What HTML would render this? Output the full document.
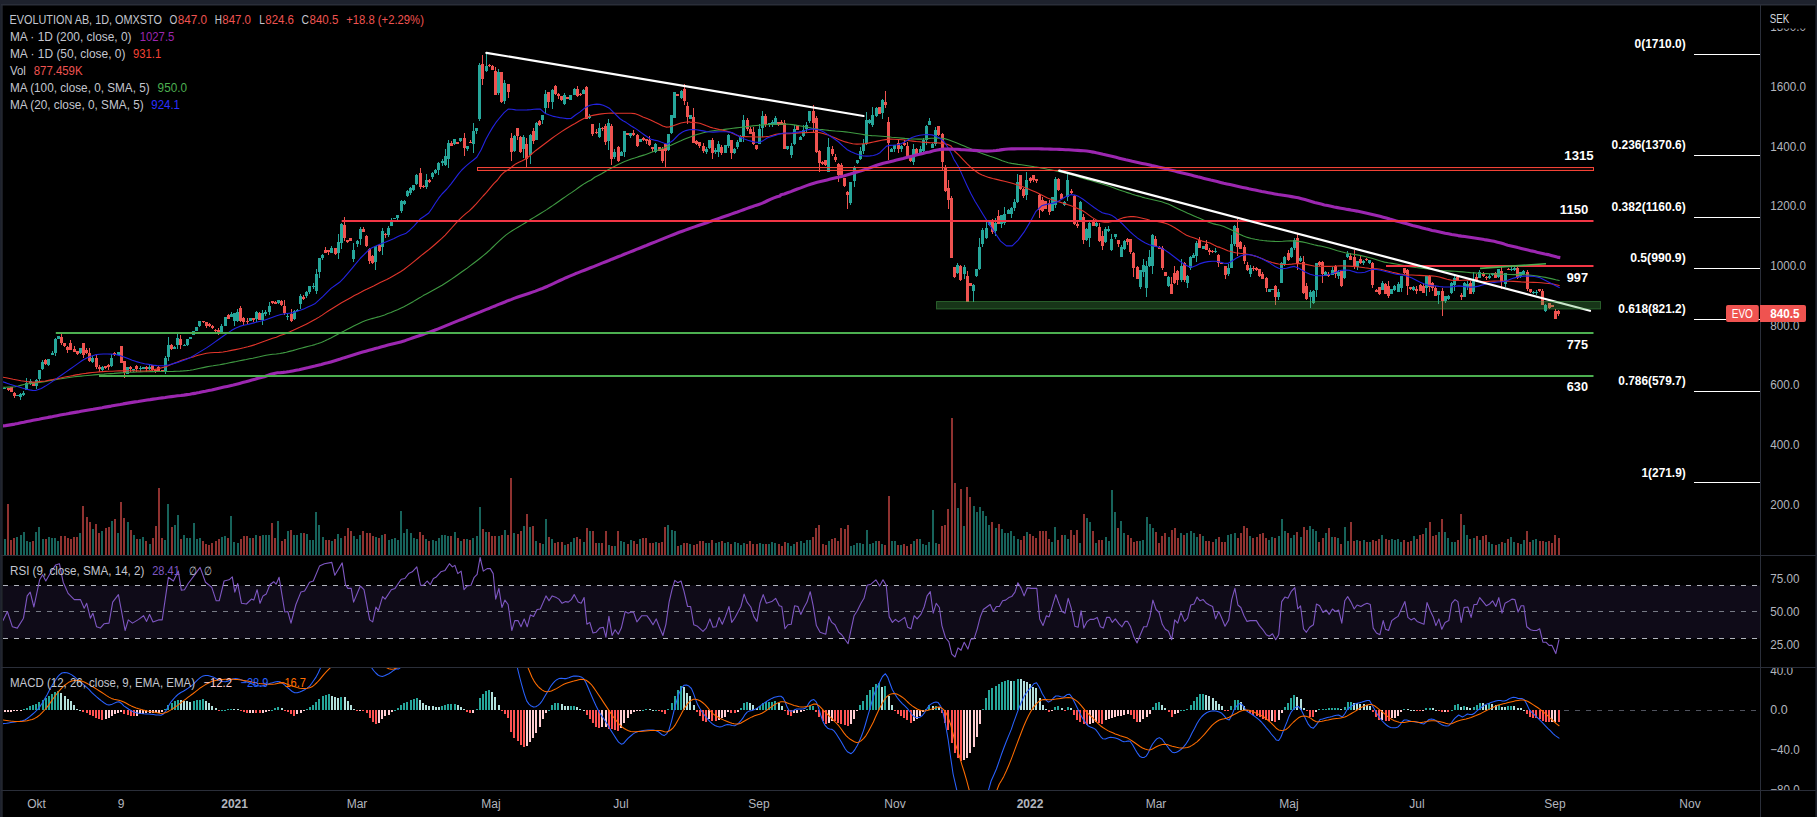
<!DOCTYPE html>
<html><head><meta charset="utf-8"><title>EVOLUTION AB chart</title>
<style>html,body{margin:0;padding:0;background:#000;width:1817px;height:817px;overflow:hidden;font-family:"Liberation Sans",sans-serif}</style>
</head><body>
<svg width="1817" height="817" viewBox="0 0 1817 817" style="position:absolute;left:0;top:0;display:block" font-family="'Liberation Sans', sans-serif">
<defs>
<clipPath id="cm"><rect x="3" y="6" width="1757" height="549"/></clipPath>
<clipPath id="cr"><rect x="3" y="556" width="1757" height="111"/></clipPath>
<clipPath id="cd"><rect x="3" y="668" width="1757" height="122"/></clipPath>
<clipPath id="ca1"><rect x="1761" y="6" width="55" height="549"/></clipPath>
<clipPath id="ca3"><rect x="1761" y="668" width="55" height="122"/></clipPath>
</defs>
<rect x="0" y="0" width="1817" height="817" fill="#000"/>
<g clip-path="url(#cm)">
<path d="M4 539h2v16h-2zM16 537h2v18h-2zM20 535h2v20h-2zM23 532h2v23h-2zM26 541h2v14h-2zM29 542h2v13h-2zM35 532h2v23h-2zM38 527h2v28h-2zM42 539h2v16h-2zM48 537h2v18h-2zM51 538h2v17h-2zM54 538h2v17h-2zM57 541h2v14h-2zM79 533h2v22h-2zM92 529h2v26h-2zM101 531h2v24h-2zM111 521h2v34h-2zM117 533h2v22h-2zM127 522h2v33h-2zM133 535h2v20h-2zM139 539h2v16h-2zM142 537h2v18h-2zM149 544h2v11h-2zM164 540h2v15h-2zM167 504h2v51h-2zM174 525h2v30h-2zM177 515h2v40h-2zM183 535h2v20h-2zM186 538h2v17h-2zM189 538h2v17h-2zM193 523h2v32h-2zM196 539h2v16h-2zM199 538h2v17h-2zM221 537h2v18h-2zM224 536h2v19h-2zM230 516h2v39h-2zM233 542h2v13h-2zM237 543h2v12h-2zM249 538h2v17h-2zM255 535h2v20h-2zM262 535h2v20h-2zM265 535h2v20h-2zM268 535h2v20h-2zM277 521h2v34h-2zM287 531h2v24h-2zM293 535h2v20h-2zM296 535h2v20h-2zM300 533h2v22h-2zM306 534h2v21h-2zM309 540h2v15h-2zM312 540h2v15h-2zM315 512h2v43h-2zM318 525h2v30h-2zM322 537h2v18h-2zM331 541h2v14h-2zM337 534h2v21h-2zM340 538h2v17h-2zM353 536h2v19h-2zM356 539h2v16h-2zM359 535h2v20h-2zM375 537h2v18h-2zM381 535h2v20h-2zM388 540h2v15h-2zM391 539h2v16h-2zM394 538h2v17h-2zM397 540h2v15h-2zM400 511h2v44h-2zM403 533h2v22h-2zM406 529h2v26h-2zM410 533h2v22h-2zM413 538h2v17h-2zM416 539h2v16h-2zM425 539h2v16h-2zM432 540h2v15h-2zM435 541h2v14h-2zM438 538h2v17h-2zM441 535h2v20h-2zM444 535h2v20h-2zM447 536h2v19h-2zM454 532h2v23h-2zM460 541h2v14h-2zM466 539h2v16h-2zM472 538h2v17h-2zM476 536h2v19h-2zM479 507h2v48h-2zM485 532h2v23h-2zM498 536h2v19h-2zM504 530h2v25h-2zM513 533h2v22h-2zM523 526h2v29h-2zM529 527h2v28h-2zM535 541h2v14h-2zM542 544h2v11h-2zM545 519h2v36h-2zM551 539h2v16h-2zM564 545h2v10h-2zM570 542h2v13h-2zM573 538h2v17h-2zM583 542h2v13h-2zM589 531h2v24h-2zM598 543h2v12h-2zM608 545h2v10h-2zM614 546h2v9h-2zM620 541h2v14h-2zM623 542h2v13h-2zM630 540h2v15h-2zM639 539h2v16h-2zM655 542h2v13h-2zM667 525h2v30h-2zM671 530h2v25h-2zM674 531h2v24h-2zM680 545h2v10h-2zM689 544h2v11h-2zM705 543h2v12h-2zM708 543h2v12h-2zM715 543h2v12h-2zM718 542h2v13h-2zM724 543h2v12h-2zM727 542h2v13h-2zM734 542h2v13h-2zM737 543h2v12h-2zM740 545h2v10h-2zM743 543h2v12h-2zM759 543h2v12h-2zM762 544h2v11h-2zM768 544h2v11h-2zM771 542h2v13h-2zM774 543h2v12h-2zM787 543h2v12h-2zM790 546h2v9h-2zM793 544h2v11h-2zM800 541h2v14h-2zM803 543h2v12h-2zM806 540h2v15h-2zM809 540h2v15h-2zM828 541h2v14h-2zM850 546h2v9h-2zM853 545h2v10h-2zM856 543h2v12h-2zM859 543h2v12h-2zM862 544h2v11h-2zM866 530h2v25h-2zM869 544h2v11h-2zM872 543h2v12h-2zM875 541h2v14h-2zM881 544h2v11h-2zM891 541h2v14h-2zM894 541h2v14h-2zM900 545h2v10h-2zM913 541h2v14h-2zM919 539h2v16h-2zM922 544h2v11h-2zM925 545h2v10h-2zM928 542h2v13h-2zM932 510h2v45h-2zM935 543h2v12h-2zM957 508h2v47h-2zM963 526h2v29h-2zM973 506h2v49h-2zM976 512h2v43h-2zM979 507h2v48h-2zM982 511h2v44h-2zM985 516h2v39h-2zM988 525h2v30h-2zM995 528h2v27h-2zM1001 529h2v26h-2zM1004 533h2v22h-2zM1007 533h2v22h-2zM1010 531h2v24h-2zM1013 536h2v19h-2zM1017 539h2v16h-2zM1026 532h2v23h-2zM1051 542h2v13h-2zM1054 527h2v28h-2zM1064 535h2v20h-2zM1067 539h2v16h-2zM1079 543h2v12h-2zM1086 518h2v37h-2zM1089 522h2v33h-2zM1095 543h2v12h-2zM1105 537h2v18h-2zM1108 541h2v14h-2zM1111 490h2v65h-2zM1114 512h2v43h-2zM1120 521h2v34h-2zM1123 533h2v22h-2zM1139 541h2v14h-2zM1142 540h2v15h-2zM1146 517h2v38h-2zM1149 524h2v31h-2zM1152 528h2v27h-2zM1168 537h2v18h-2zM1180 533h2v22h-2zM1186 533h2v22h-2zM1190 531h2v24h-2zM1193 533h2v22h-2zM1196 537h2v18h-2zM1202 536h2v19h-2zM1215 539h2v16h-2zM1227 535h2v20h-2zM1230 534h2v21h-2zM1234 533h2v22h-2zM1249 536h2v19h-2zM1268 540h2v15h-2zM1271 537h2v18h-2zM1278 536h2v19h-2zM1281 519h2v36h-2zM1284 531h2v24h-2zM1290 538h2v17h-2zM1293 535h2v20h-2zM1300 537h2v18h-2zM1309 526h2v29h-2zM1312 529h2v26h-2zM1315 531h2v24h-2zM1325 533h2v22h-2zM1331 537h2v18h-2zM1337 538h2v17h-2zM1344 527h2v28h-2zM1347 541h2v14h-2zM1356 540h2v15h-2zM1363 540h2v15h-2zM1369 542h2v13h-2zM1381 535h2v20h-2zM1391 539h2v16h-2zM1394 540h2v15h-2zM1397 539h2v16h-2zM1400 542h2v13h-2zM1413 536h2v19h-2zM1425 528h2v27h-2zM1438 532h2v23h-2zM1444 532h2v23h-2zM1447 538h2v17h-2zM1451 542h2v13h-2zM1454 542h2v13h-2zM1463 525h2v30h-2zM1466 535h2v20h-2zM1473 538h2v17h-2zM1479 540h2v15h-2zM1488 542h2v13h-2zM1491 544h2v11h-2zM1498 544h2v11h-2zM1504 543h2v12h-2zM1510 537h2v18h-2zM1513 542h2v13h-2zM1520 544h2v11h-2zM1523 540h2v15h-2zM1532 540h2v15h-2zM1535 539h2v16h-2zM1545 542h2v13h-2z" fill="#17635b" shape-rendering="crispEdges"/>
<path d="M7 504h2v51h-2zM10 540h2v15h-2zM13 538h2v17h-2zM32 541h2v14h-2zM45 539h2v16h-2zM60 536h2v19h-2zM64 536h2v19h-2zM67 538h2v17h-2zM70 539h2v16h-2zM73 537h2v18h-2zM76 537h2v18h-2zM82 506h2v49h-2zM86 517h2v38h-2zM89 522h2v33h-2zM95 524h2v31h-2zM98 533h2v22h-2zM105 528h2v27h-2zM108 527h2v28h-2zM114 519h2v36h-2zM120 502h2v53h-2zM123 518h2v37h-2zM130 530h2v25h-2zM136 539h2v16h-2zM145 541h2v14h-2zM152 538h2v17h-2zM155 526h2v29h-2zM158 488h2v67h-2zM161 538h2v17h-2zM171 527h2v28h-2zM180 539h2v16h-2zM202 541h2v14h-2zM205 544h2v11h-2zM208 545h2v10h-2zM211 543h2v12h-2zM215 541h2v14h-2zM218 539h2v16h-2zM227 538h2v17h-2zM240 539h2v16h-2zM243 536h2v19h-2zM246 536h2v19h-2zM252 538h2v17h-2zM259 536h2v19h-2zM271 523h2v32h-2zM274 538h2v17h-2zM281 541h2v14h-2zM284 539h2v16h-2zM290 530h2v25h-2zM303 533h2v22h-2zM325 540h2v15h-2zM328 540h2v15h-2zM334 539h2v16h-2zM344 536h2v19h-2zM347 528h2v27h-2zM350 531h2v24h-2zM362 531h2v24h-2zM366 533h2v22h-2zM369 533h2v22h-2zM372 536h2v19h-2zM378 538h2v17h-2zM384 534h2v21h-2zM419 532h2v23h-2zM422 535h2v20h-2zM428 541h2v14h-2zM450 536h2v19h-2zM457 538h2v17h-2zM463 539h2v16h-2zM469 540h2v15h-2zM482 529h2v26h-2zM488 532h2v23h-2zM491 536h2v19h-2zM494 536h2v19h-2zM501 535h2v20h-2zM507 535h2v20h-2zM510 478h2v77h-2zM517 534h2v21h-2zM520 531h2v24h-2zM526 514h2v41h-2zM532 526h2v29h-2zM539 543h2v12h-2zM548 537h2v18h-2zM554 543h2v12h-2zM557 542h2v13h-2zM561 542h2v13h-2zM567 544h2v11h-2zM576 537h2v18h-2zM579 539h2v16h-2zM586 528h2v27h-2zM592 531h2v24h-2zM595 543h2v12h-2zM601 543h2v12h-2zM605 531h2v24h-2zM611 546h2v9h-2zM617 531h2v24h-2zM627 544h2v11h-2zM633 541h2v14h-2zM636 544h2v11h-2zM642 538h2v17h-2zM645 538h2v17h-2zM649 543h2v12h-2zM652 543h2v12h-2zM658 543h2v12h-2zM661 542h2v13h-2zM664 527h2v28h-2zM677 546h2v9h-2zM683 543h2v12h-2zM686 543h2v12h-2zM693 545h2v10h-2zM696 544h2v11h-2zM699 541h2v14h-2zM702 541h2v14h-2zM711 540h2v15h-2zM721 541h2v14h-2zM730 544h2v11h-2zM746 544h2v11h-2zM749 541h2v14h-2zM752 544h2v11h-2zM756 544h2v11h-2zM765 544h2v11h-2zM778 544h2v11h-2zM781 546h2v9h-2zM784 542h2v13h-2zM796 542h2v13h-2zM812 537h2v18h-2zM815 528h2v27h-2zM818 525h2v30h-2zM822 544h2v11h-2zM825 545h2v10h-2zM831 539h2v16h-2zM834 538h2v17h-2zM837 541h2v14h-2zM840 528h2v27h-2zM844 529h2v26h-2zM847 525h2v30h-2zM878 541h2v14h-2zM884 545h2v10h-2zM888 496h2v59h-2zM897 545h2v10h-2zM903 544h2v11h-2zM906 546h2v9h-2zM910 544h2v11h-2zM916 539h2v16h-2zM938 544h2v11h-2zM941 526h2v29h-2zM944 525h2v30h-2zM947 509h2v46h-2zM951 418h2v137h-2zM954 483h2v72h-2zM960 489h2v66h-2zM966 487h2v68h-2zM969 497h2v58h-2zM991 522h2v33h-2zM998 524h2v31h-2zM1020 540h2v15h-2zM1023 536h2v19h-2zM1029 534h2v21h-2zM1032 536h2v19h-2zM1035 538h2v17h-2zM1039 531h2v24h-2zM1042 531h2v24h-2zM1045 531h2v24h-2zM1048 539h2v16h-2zM1057 540h2v15h-2zM1061 535h2v20h-2zM1070 530h2v25h-2zM1073 535h2v20h-2zM1076 530h2v25h-2zM1083 514h2v41h-2zM1092 531h2v24h-2zM1098 540h2v15h-2zM1101 540h2v15h-2zM1117 528h2v27h-2zM1127 535h2v20h-2zM1130 538h2v17h-2zM1133 542h2v13h-2zM1136 541h2v14h-2zM1155 532h2v23h-2zM1158 543h2v12h-2zM1161 536h2v19h-2zM1164 533h2v22h-2zM1171 530h2v25h-2zM1174 528h2v27h-2zM1177 538h2v17h-2zM1183 535h2v20h-2zM1199 534h2v21h-2zM1205 541h2v14h-2zM1208 541h2v14h-2zM1212 542h2v13h-2zM1218 537h2v18h-2zM1221 542h2v13h-2zM1224 542h2v13h-2zM1237 538h2v17h-2zM1240 533h2v22h-2zM1243 526h2v29h-2zM1246 528h2v27h-2zM1252 538h2v17h-2zM1256 537h2v18h-2zM1259 534h2v21h-2zM1262 533h2v22h-2zM1265 538h2v17h-2zM1274 538h2v17h-2zM1287 533h2v22h-2zM1296 532h2v23h-2zM1303 527h2v28h-2zM1306 530h2v25h-2zM1318 542h2v13h-2zM1322 538h2v17h-2zM1328 528h2v27h-2zM1334 537h2v18h-2zM1340 544h2v11h-2zM1350 522h2v33h-2zM1353 541h2v14h-2zM1359 541h2v14h-2zM1366 542h2v13h-2zM1372 540h2v15h-2zM1375 541h2v14h-2zM1378 539h2v16h-2zM1385 539h2v16h-2zM1388 540h2v15h-2zM1403 540h2v15h-2zM1407 542h2v13h-2zM1410 541h2v14h-2zM1416 539h2v16h-2zM1419 535h2v20h-2zM1422 534h2v21h-2zM1429 522h2v33h-2zM1432 536h2v19h-2zM1435 535h2v20h-2zM1441 519h2v36h-2zM1457 540h2v15h-2zM1460 514h2v41h-2zM1469 539h2v16h-2zM1476 536h2v19h-2zM1482 536h2v19h-2zM1485 535h2v20h-2zM1495 545h2v10h-2zM1501 542h2v13h-2zM1507 539h2v16h-2zM1517 543h2v12h-2zM1526 531h2v24h-2zM1529 542h2v13h-2zM1539 541h2v14h-2zM1542 541h2v14h-2zM1548 541h2v14h-2zM1551 543h2v12h-2zM1554 535h2v20h-2zM1558 538h2v17h-2z" fill="#8f3230" shape-rendering="crispEdges"/>
<path d="M3 388h3v1h-3zM4 387h1v1h-1zM16 395h3v1h-3zM19 394h3v3h-3zM20 393h1v1h-1zM20 397h1v3h-1zM22 393h3v2h-3zM23 391h1v2h-1zM23 395h1v1h-1zM25 383h3v7h-3zM26 378h1v5h-1zM29 381h3v3h-3zM30 379h1v2h-1zM30 384h1v1h-1zM35 380h3v6h-3zM36 379h1v1h-1zM36 386h1v3h-1zM38 370h3v9h-3zM39 379h1v3h-1zM41 362h3v7h-3zM42 360h1v2h-1zM42 369h1v1h-1zM47 359h3v6h-3zM48 365h1v1h-1zM51 353h3v2h-3zM52 351h1v2h-1zM54 339h3v14h-3zM55 338h1v1h-1zM55 353h1v3h-1zM57 336h3v3h-3zM79 348h3v5h-3zM80 353h1v1h-1zM91 358h3v4h-3zM92 356h1v2h-1zM92 362h1v1h-1zM101 367h3v3h-3zM102 366h1v1h-1zM102 370h1v2h-1zM110 358h3v8h-3zM111 354h1v4h-1zM111 366h1v1h-1zM117 352h3v3h-3zM126 367h3v7h-3zM132 369h3v2h-3zM133 371h1v1h-1zM139 368h3v1h-3zM140 366h1v2h-1zM140 369h1v3h-1zM142 367h3v2h-3zM148 367h3v2h-3zM149 364h1v3h-1zM149 369h1v1h-1zM164 358h3v13h-3zM165 356h1v2h-1zM165 371h1v3h-1zM167 345h3v12h-3zM168 337h1v8h-1zM168 357h1v4h-1zM173 347h3v2h-3zM174 346h1v1h-1zM176 338h3v7h-3zM177 333h1v5h-1zM177 345h1v4h-1zM183 345h3v1h-3zM184 344h1v1h-1zM186 339h3v6h-3zM187 345h1v1h-1zM189 337h3v2h-3zM192 331h3v4h-3zM195 327h3v4h-3zM198 321h3v5h-3zM199 326h1v1h-1zM220 326h3v6h-3zM221 324h1v2h-1zM221 332h1v1h-1zM224 317h3v9h-3zM230 314h3v3h-3zM231 312h1v2h-1zM233 313h3v8h-3zM234 321h1v5h-1zM236 312h3v9h-3zM237 309h1v3h-1zM237 321h1v1h-1zM249 318h3v3h-3zM255 312h3v7h-3zM256 311h1v1h-1zM256 319h1v3h-1zM261 313h3v7h-3zM262 310h1v3h-1zM262 320h1v5h-1zM264 312h3v2h-3zM265 310h1v2h-1zM265 314h1v2h-1zM268 306h3v6h-3zM269 302h1v4h-1zM269 312h1v3h-1zM277 300h3v3h-3zM278 303h1v1h-1zM286 316h3v1h-3zM287 313h1v3h-1zM287 317h1v3h-1zM293 311h3v8h-3zM294 310h1v1h-1zM294 319h1v1h-1zM296 310h3v1h-3zM297 309h1v1h-1zM299 296h3v8h-3zM300 294h1v2h-1zM300 304h1v5h-1zM305 292h3v4h-3zM306 291h1v1h-1zM306 296h1v2h-1zM308 286h3v6h-3zM309 292h1v2h-1zM312 286h3v1h-3zM313 283h1v3h-1zM313 287h1v2h-1zM315 274h3v17h-3zM316 269h1v5h-1zM316 291h1v3h-1zM318 258h3v14h-3zM319 272h1v6h-1zM321 255h3v3h-3zM322 254h1v1h-1zM322 258h1v2h-1zM330 248h3v5h-3zM331 246h1v2h-1zM337 242h3v11h-3zM338 234h1v8h-1zM338 253h1v6h-1zM340 224h3v19h-3zM341 223h1v1h-1zM341 243h1v6h-1zM352 250h3v9h-3zM353 243h1v7h-1zM353 259h1v3h-1zM356 241h3v3h-3zM357 240h1v1h-1zM357 244h1v3h-1zM359 229h3v10h-3zM360 227h1v2h-1zM360 239h1v6h-1zM374 246h3v16h-3zM375 262h1v8h-1zM381 231h3v16h-3zM382 228h1v3h-1zM382 247h1v8h-1zM387 228h3v7h-3zM388 226h1v2h-1zM388 235h1v2h-1zM390 220h3v6h-3zM391 218h1v2h-1zM393 218h3v1h-3zM396 215h3v3h-3zM397 218h1v2h-1zM400 201h3v10h-3zM401 200h1v1h-1zM401 211h1v2h-1zM403 201h3v3h-3zM404 200h1v1h-1zM404 204h1v1h-1zM406 191h3v5h-3zM407 190h1v1h-1zM407 196h1v1h-1zM409 188h3v5h-3zM410 187h1v1h-1zM410 193h1v2h-1zM412 185h3v5h-3zM413 190h1v1h-1zM415 175h3v9h-3zM416 174h1v1h-1zM416 184h1v1h-1zM425 180h3v7h-3zM426 174h1v6h-1zM426 187h1v2h-1zM431 173h3v4h-3zM432 172h1v1h-1zM432 177h1v2h-1zM434 170h3v3h-3zM435 169h1v1h-1zM435 173h1v1h-1zM437 163h3v7h-3zM438 162h1v1h-1zM438 170h1v5h-1zM441 161h3v2h-3zM442 159h1v2h-1zM442 163h1v3h-1zM444 156h3v9h-3zM445 149h1v7h-1zM445 165h1v1h-1zM447 143h3v16h-3zM448 140h1v3h-1zM448 159h1v9h-1zM453 139h3v5h-3zM454 144h1v1h-1zM459 138h3v3h-3zM460 141h1v1h-1zM466 146h3v3h-3zM467 149h1v2h-1zM472 131h3v13h-3zM473 123h1v8h-1zM473 144h1v9h-1zM475 128h3v3h-3zM476 131h1v3h-1zM478 65h3v54h-3zM479 63h1v2h-1zM479 119h1v2h-1zM485 66h3v5h-3zM486 53h1v13h-1zM486 71h1v1h-1zM497 72h3v21h-3zM498 69h1v3h-1zM498 93h1v2h-1zM503 83h3v18h-3zM504 80h1v3h-1zM504 101h1v3h-1zM513 136h3v15h-3zM514 135h1v1h-1zM514 151h1v1h-1zM522 137h3v12h-3zM523 135h1v2h-1zM523 149h1v9h-1zM529 135h3v20h-3zM530 134h1v1h-1zM530 155h1v9h-1zM535 123h3v17h-3zM536 122h1v1h-1zM541 115h3v5h-3zM542 120h1v4h-1zM544 94h3v14h-3zM545 90h1v4h-1zM545 108h1v5h-1zM551 90h3v12h-3zM552 89h1v1h-1zM552 102h1v7h-1zM563 95h3v9h-3zM564 93h1v2h-1zM564 104h1v1h-1zM569 95h3v5h-3zM573 89h3v6h-3zM574 88h1v1h-1zM582 90h3v4h-3zM583 89h1v1h-1zM588 116h3v2h-3zM589 114h1v2h-1zM589 118h1v1h-1zM598 128h3v9h-3zM599 123h1v5h-1zM599 137h1v1h-1zM607 123h3v18h-3zM608 119h1v4h-1zM608 141h1v9h-1zM613 152h3v5h-3zM614 149h1v3h-1zM614 157h1v2h-1zM620 152h3v4h-3zM621 151h1v1h-1zM623 131h3v21h-3zM624 152h1v5h-1zM629 133h3v3h-3zM630 136h1v2h-1zM639 139h3v3h-3zM654 144h3v8h-3zM655 143h1v1h-1zM655 152h1v1h-1zM667 134h3v16h-3zM668 150h1v1h-1zM670 115h3v18h-3zM671 133h1v1h-1zM673 92h3v26h-3zM680 91h3v7h-3zM681 90h1v1h-1zM681 98h1v1h-1zM689 115h3v4h-3zM705 149h3v3h-3zM706 147h1v2h-1zM706 152h1v2h-1zM708 140h3v8h-3zM709 148h1v1h-1zM714 150h3v2h-3zM715 148h1v2h-1zM715 152h1v2h-1zM717 144h3v8h-3zM718 141h1v3h-1zM718 152h1v5h-1zM724 145h3v8h-3zM727 135h3v11h-3zM728 134h1v1h-1zM728 146h1v2h-1zM733 149h3v4h-3zM734 148h1v1h-1zM734 153h1v1h-1zM736 142h3v5h-3zM737 140h1v2h-1zM737 147h1v2h-1zM739 136h3v6h-3zM740 135h1v1h-1zM742 120h3v17h-3zM743 115h1v5h-1zM743 137h1v5h-1zM758 129h3v15h-3zM759 124h1v5h-1zM761 116h3v12h-3zM762 111h1v5h-1zM762 128h1v9h-1zM768 123h3v2h-3zM769 125h1v2h-1zM771 122h3v3h-3zM772 120h1v2h-1zM772 125h1v2h-1zM774 118h3v7h-3zM775 116h1v2h-1zM786 146h3v3h-3zM787 149h1v1h-1zM790 146h3v9h-3zM791 143h1v3h-1zM791 155h1v3h-1zM793 129h3v15h-3zM794 125h1v4h-1zM794 144h1v1h-1zM799 137h3v3h-3zM800 136h1v1h-1zM802 130h3v6h-3zM803 125h1v5h-1zM803 136h1v1h-1zM805 125h3v4h-3zM806 122h1v3h-1zM806 129h1v3h-1zM808 111h3v10h-3zM809 121h1v2h-1zM827 147h3v25h-3zM828 138h1v9h-1zM849 182h3v21h-3zM850 203h1v2h-1zM853 168h3v13h-3zM854 166h1v2h-1zM854 181h1v6h-1zM856 160h3v3h-3zM857 163h1v1h-1zM859 151h3v8h-3zM860 147h1v4h-1zM860 159h1v1h-1zM862 144h3v7h-3zM863 139h1v5h-1zM863 151h1v3h-1zM865 120h3v24h-3zM866 112h1v8h-1zM866 144h1v1h-1zM868 120h3v3h-3zM869 119h1v1h-1zM869 123h1v1h-1zM871 115h3v10h-3zM872 107h1v8h-1zM872 125h1v2h-1zM875 108h3v8h-3zM876 107h1v1h-1zM876 116h1v1h-1zM881 100h3v13h-3zM882 99h1v1h-1zM882 113h1v6h-1zM890 149h3v3h-3zM891 148h1v1h-1zM893 145h3v4h-3zM894 149h1v3h-1zM900 146h3v3h-3zM901 145h1v1h-1zM901 149h1v3h-1zM912 149h3v13h-3zM913 144h1v5h-1zM913 162h1v3h-1zM919 149h3v4h-3zM920 146h1v3h-1zM922 140h3v11h-3zM923 138h1v2h-1zM923 151h1v1h-1zM925 126h3v14h-3zM926 125h1v1h-1zM926 140h1v5h-1zM928 121h3v4h-3zM929 118h1v3h-1zM931 144h3v4h-3zM932 143h1v1h-1zM934 130h3v14h-3zM935 127h1v3h-1zM935 144h1v2h-1zM956 265h3v8h-3zM957 263h1v2h-1zM957 273h1v1h-1zM963 267h3v7h-3zM964 265h1v2h-1zM964 274h1v5h-1zM972 285h3v6h-3zM973 284h1v1h-1zM973 291h1v11h-1zM975 269h3v7h-3zM976 276h1v1h-1zM978 247h3v22h-3zM979 238h1v9h-1zM979 269h1v1h-1zM981 230h3v14h-3zM982 228h1v2h-1zM982 244h1v3h-1zM985 228h3v10h-3zM986 222h1v6h-1zM986 238h1v1h-1zM988 221h3v4h-3zM989 220h1v1h-1zM989 225h1v1h-1zM994 223h3v8h-3zM995 218h1v5h-1zM995 231h1v5h-1zM1000 215h3v9h-3zM1001 224h1v4h-1zM1003 214h3v9h-3zM1004 207h1v7h-1zM1004 223h1v2h-1zM1007 210h3v4h-3zM1008 209h1v1h-1zM1010 208h3v6h-3zM1011 207h1v1h-1zM1011 214h1v4h-1zM1013 202h3v6h-3zM1014 199h1v3h-1zM1014 208h1v3h-1zM1016 182h3v20h-3zM1017 174h1v8h-1zM1017 202h1v1h-1zM1025 180h3v15h-3zM1026 172h1v8h-1zM1026 195h1v5h-1zM1051 197h3v14h-3zM1054 179h3v26h-3zM1055 177h1v2h-1zM1055 205h1v3h-1zM1063 202h3v3h-3zM1064 201h1v1h-1zM1064 205h1v1h-1zM1066 180h3v17h-3zM1067 172h1v8h-1zM1067 197h1v4h-1zM1079 202h3v18h-3zM1080 201h1v1h-1zM1080 220h1v1h-1zM1085 229h3v11h-3zM1086 228h1v1h-1zM1086 240h1v1h-1zM1088 223h3v15h-3zM1089 220h1v3h-1zM1089 238h1v9h-1zM1095 223h3v3h-3zM1096 222h1v1h-1zM1096 226h1v1h-1zM1104 229h3v13h-3zM1105 227h1v2h-1zM1105 242h1v1h-1zM1107 229h3v2h-3zM1108 226h1v3h-1zM1108 231h1v1h-1zM1110 239h3v11h-3zM1111 234h1v5h-1zM1111 250h1v1h-1zM1114 234h3v3h-3zM1115 237h1v2h-1zM1120 247h3v10h-3zM1121 245h1v2h-1zM1123 241h3v8h-3zM1124 240h1v1h-1zM1124 249h1v1h-1zM1139 270h3v17h-3zM1140 287h1v2h-1zM1142 265h3v7h-3zM1143 259h1v6h-1zM1143 272h1v5h-1zM1145 266h3v22h-3zM1146 261h1v5h-1zM1146 288h1v9h-1zM1148 257h3v9h-3zM1149 250h1v7h-1zM1149 266h1v1h-1zM1151 235h3v31h-3zM1152 234h1v1h-1zM1152 266h1v8h-1zM1167 277h3v9h-3zM1168 276h1v1h-1zM1168 286h1v1h-1zM1180 266h3v14h-3zM1181 259h1v7h-1zM1181 280h1v2h-1zM1186 276h3v7h-3zM1187 275h1v1h-1zM1187 283h1v5h-1zM1189 257h3v11h-3zM1190 256h1v1h-1zM1190 268h1v2h-1zM1192 255h3v3h-3zM1193 253h1v2h-1zM1195 243h3v13h-3zM1196 241h1v2h-1zM1196 256h1v6h-1zM1202 246h3v3h-3zM1214 251h3v1h-3zM1215 248h1v3h-1zM1215 252h1v1h-1zM1227 268h3v6h-3zM1228 264h1v4h-1zM1228 274h1v2h-1zM1230 244h3v24h-3zM1231 235h1v9h-1zM1233 226h3v18h-3zM1234 225h1v1h-1zM1234 244h1v2h-1zM1249 268h3v6h-3zM1250 265h1v3h-1zM1250 274h1v3h-1zM1268 289h3v3h-3zM1271 289h3v1h-3zM1277 292h3v5h-3zM1278 289h1v3h-1zM1278 297h1v3h-1zM1280 263h3v20h-3zM1281 262h1v1h-1zM1283 257h3v7h-3zM1284 256h1v1h-1zM1284 264h1v2h-1zM1290 248h3v9h-3zM1291 247h1v1h-1zM1291 257h1v1h-1zM1293 240h3v8h-3zM1294 238h1v2h-1zM1294 248h1v2h-1zM1299 258h3v3h-3zM1300 256h1v2h-1zM1300 261h1v1h-1zM1309 292h3v5h-3zM1310 290h1v2h-1zM1310 297h1v11h-1zM1312 291h3v12h-3zM1313 290h1v1h-1zM1313 303h1v1h-1zM1315 263h3v27h-3zM1316 290h1v7h-1zM1324 272h3v4h-3zM1325 271h1v1h-1zM1331 270h3v5h-3zM1332 267h1v3h-1zM1337 272h3v4h-3zM1338 270h1v2h-1zM1338 276h1v3h-1zM1343 260h3v18h-3zM1344 278h1v1h-1zM1346 254h3v3h-3zM1347 251h1v3h-1zM1347 257h1v1h-1zM1356 261h3v6h-3zM1357 267h1v3h-1zM1362 261h3v2h-3zM1363 260h1v1h-1zM1363 263h1v2h-1zM1368 260h3v3h-3zM1369 263h1v1h-1zM1381 283h3v7h-3zM1382 281h1v2h-1zM1390 289h3v5h-3zM1393 286h3v4h-3zM1394 285h1v1h-1zM1394 290h1v1h-1zM1397 284h3v8h-3zM1398 282h1v2h-1zM1400 276h3v12h-3zM1401 288h1v4h-1zM1412 287h3v3h-3zM1413 286h1v1h-1zM1413 290h1v1h-1zM1425 276h3v12h-3zM1426 288h1v8h-1zM1437 291h3v4h-3zM1438 295h1v9h-1zM1444 296h3v5h-3zM1445 301h1v2h-1zM1447 296h3v3h-3zM1448 295h1v1h-1zM1448 299h1v1h-1zM1450 283h3v10h-3zM1451 282h1v1h-1zM1451 293h1v1h-1zM1453 278h3v7h-3zM1454 276h1v2h-1zM1454 285h1v6h-1zM1463 283h3v14h-3zM1464 282h1v1h-1zM1466 284h3v3h-3zM1467 281h1v3h-1zM1467 287h1v3h-1zM1472 281h3v11h-3zM1473 272h1v9h-1zM1473 292h1v2h-1zM1478 272h3v6h-3zM1479 270h1v2h-1zM1488 276h3v2h-3zM1489 274h1v2h-1zM1489 278h1v1h-1zM1491 273h3v2h-3zM1492 275h1v1h-1zM1497 269h3v8h-3zM1498 277h1v1h-1zM1504 273h3v11h-3zM1505 284h1v3h-1zM1510 269h3v1h-3zM1511 267h1v2h-1zM1511 270h1v1h-1zM1513 268h3v2h-3zM1514 267h1v1h-1zM1514 270h1v1h-1zM1519 272h3v5h-3zM1520 277h1v1h-1zM1522 271h3v3h-3zM1523 270h1v1h-1zM1523 274h1v1h-1zM1532 292h3v1h-3zM1533 291h1v1h-1zM1533 293h1v1h-1zM1535 292h3v1h-3zM1536 290h1v2h-1zM1536 293h1v2h-1zM1544 305h3v6h-3zM1545 304h1v1h-1zM1545 311h1v1h-1z" fill="#26a69a" shape-rendering="crispEdges"/>
<path d="M7 388h3v2h-3zM8 390h1v1h-1zM10 387h3v5h-3zM13 393h3v3h-3zM14 392h1v1h-1zM14 396h1v2h-1zM32 382h3v4h-3zM44 360h3v4h-3zM45 359h1v1h-1zM45 364h1v1h-1zM60 337h3v6h-3zM61 334h1v3h-1zM61 343h1v2h-1zM63 343h3v3h-3zM64 346h1v1h-1zM66 347h3v3h-3zM67 346h1v1h-1zM67 350h1v3h-1zM69 343h3v7h-3zM70 340h1v3h-1zM73 349h3v3h-3zM74 346h1v3h-1zM76 351h3v3h-3zM77 354h1v1h-1zM82 343h3v12h-3zM83 355h1v3h-1zM85 350h3v3h-3zM86 348h1v2h-1zM86 353h1v1h-1zM88 353h3v8h-3zM89 348h1v5h-1zM89 361h1v1h-1zM95 358h3v9h-3zM96 355h1v3h-1zM96 367h1v2h-1zM98 367h3v2h-3zM99 365h1v2h-1zM99 369h1v3h-1zM104 366h3v2h-3zM105 368h1v1h-1zM107 365h3v2h-3zM108 364h1v1h-1zM108 367h1v3h-1zM113 353h3v2h-3zM114 352h1v1h-1zM114 355h1v1h-1zM120 346h3v17h-3zM123 361h3v12h-3zM124 373h1v5h-1zM129 367h3v2h-3zM130 366h1v1h-1zM130 369h1v3h-1zM135 366h3v3h-3zM136 365h1v1h-1zM136 369h1v3h-1zM145 367h3v2h-3zM146 366h1v1h-1zM146 369h1v3h-1zM151 365h3v5h-3zM152 370h1v1h-1zM154 370h3v2h-3zM155 372h1v1h-1zM157 367h3v4h-3zM158 366h1v1h-1zM161 370h3v1h-3zM162 371h1v1h-1zM170 345h3v4h-3zM171 344h1v1h-1zM171 349h1v1h-1zM179 339h3v6h-3zM180 335h1v4h-1zM180 345h1v4h-1zM202 321h3v1h-3zM203 322h1v1h-1zM205 322h3v4h-3zM206 326h1v2h-1zM208 324h3v2h-3zM209 323h1v1h-1zM209 326h1v1h-1zM211 326h3v2h-3zM212 325h1v1h-1zM212 328h1v1h-1zM214 330h3v1h-3zM215 329h1v1h-1zM215 331h1v1h-1zM217 330h3v2h-3zM218 328h1v2h-1zM218 332h1v3h-1zM227 315h3v4h-3zM228 314h1v1h-1zM239 308h3v13h-3zM240 306h1v2h-1zM240 321h1v1h-1zM242 318h3v4h-3zM243 317h1v1h-1zM243 322h1v3h-1zM246 321h3v1h-3zM247 318h1v3h-1zM247 322h1v2h-1zM252 318h3v2h-3zM253 320h1v2h-1zM258 313h3v7h-3zM259 312h1v1h-1zM271 301h3v2h-3zM272 303h1v1h-1zM274 302h3v2h-3zM275 301h1v1h-1zM280 301h3v4h-3zM281 300h1v1h-1zM281 305h1v1h-1zM283 306h3v7h-3zM284 300h1v6h-1zM284 313h1v2h-1zM290 314h3v7h-3zM291 309h1v5h-1zM291 321h1v1h-1zM302 297h3v2h-3zM303 295h1v2h-1zM303 299h1v1h-1zM324 250h3v3h-3zM325 247h1v3h-1zM327 250h3v2h-3zM328 252h1v3h-1zM334 248h3v6h-3zM335 254h1v1h-1zM343 225h3v13h-3zM344 217h1v8h-1zM344 238h1v3h-1zM346 240h3v2h-3zM347 242h1v1h-1zM349 238h3v3h-3zM362 229h3v3h-3zM363 227h1v2h-1zM365 236h3v10h-3zM366 235h1v1h-1zM366 246h1v1h-1zM368 249h3v12h-3zM369 248h1v1h-1zM369 261h1v3h-1zM371 256h3v7h-3zM372 255h1v1h-1zM372 263h1v1h-1zM378 245h3v6h-3zM379 244h1v1h-1zM379 251h1v1h-1zM384 234h3v1h-3zM385 233h1v1h-1zM385 235h1v3h-1zM419 173h3v14h-3zM420 168h1v5h-1zM420 187h1v2h-1zM422 186h3v1h-3zM423 185h1v1h-1zM423 187h1v1h-1zM428 180h3v2h-3zM429 179h1v1h-1zM429 182h1v1h-1zM450 143h3v3h-3zM451 141h1v2h-1zM456 142h3v2h-3zM463 138h3v10h-3zM464 133h1v5h-1zM464 148h1v8h-1zM469 142h3v1h-3zM470 140h1v2h-1zM481 64h3v15h-3zM482 55h1v9h-1zM482 79h1v6h-1zM488 65h3v1h-3zM489 64h1v1h-1zM489 66h1v1h-1zM491 66h3v4h-3zM492 65h1v1h-1zM494 71h3v24h-3zM495 67h1v4h-1zM500 72h3v30h-3zM501 102h1v1h-1zM507 84h3v8h-3zM508 92h1v6h-1zM510 138h3v14h-3zM511 133h1v5h-1zM511 152h1v9h-1zM516 128h3v8h-3zM517 136h1v4h-1zM519 137h3v15h-3zM520 136h1v1h-1zM520 152h1v1h-1zM525 144h3v15h-3zM526 138h1v6h-1zM526 159h1v9h-1zM532 131h3v10h-3zM533 128h1v3h-1zM533 141h1v3h-1zM538 121h3v4h-3zM539 120h1v1h-1zM539 125h1v1h-1zM547 92h3v10h-3zM548 102h1v6h-1zM554 86h3v8h-3zM555 85h1v1h-1zM555 94h1v1h-1zM557 94h3v2h-3zM558 93h1v1h-1zM558 96h1v3h-1zM560 96h3v4h-3zM561 100h1v1h-1zM566 97h3v2h-3zM576 89h3v7h-3zM577 86h1v3h-1zM577 96h1v1h-1zM579 94h3v1h-3zM580 93h1v1h-1zM580 95h1v1h-1zM585 87h3v32h-3zM586 86h1v1h-1zM591 124h3v10h-3zM592 134h1v2h-1zM595 132h3v1h-3zM596 129h1v3h-1zM596 133h1v1h-1zM601 128h3v1h-3zM602 127h1v1h-1zM602 129h1v2h-1zM604 126h3v16h-3zM605 124h1v2h-1zM605 142h1v3h-1zM610 126h3v33h-3zM611 124h1v2h-1zM611 159h1v6h-1zM617 147h3v14h-3zM618 146h1v1h-1zM618 161h1v1h-1zM626 133h3v2h-3zM632 133h3v2h-3zM633 130h1v3h-1zM633 135h1v1h-1zM636 135h3v11h-3zM637 134h1v1h-1zM637 146h1v1h-1zM642 138h3v2h-3zM643 137h1v1h-1zM643 140h1v1h-1zM645 139h3v2h-3zM646 141h1v3h-1zM648 140h3v5h-3zM649 136h1v4h-1zM649 145h1v1h-1zM651 147h3v2h-3zM652 149h1v3h-1zM658 147h3v4h-3zM661 149h3v12h-3zM662 147h1v2h-1zM662 161h1v2h-1zM664 144h3v7h-3zM665 151h1v16h-1zM676 94h3v2h-3zM683 89h3v12h-3zM684 84h1v5h-1zM684 101h1v4h-1zM686 106h3v11h-3zM687 102h1v4h-1zM687 117h1v7h-1zM692 117h3v26h-3zM693 108h1v9h-1zM695 141h3v3h-3zM696 140h1v1h-1zM696 144h1v1h-1zM698 142h3v4h-3zM699 146h1v2h-1zM702 146h3v5h-3zM703 143h1v3h-1zM703 151h1v2h-1zM711 140h3v13h-3zM712 138h1v2h-1zM712 153h1v6h-1zM720 147h3v6h-3zM721 145h1v2h-1zM721 153h1v2h-1zM730 140h3v13h-3zM731 153h1v6h-1zM746 120h3v9h-3zM747 118h1v2h-1zM747 129h1v2h-1zM749 129h3v5h-3zM750 127h1v2h-1zM752 132h3v12h-3zM753 127h1v5h-1zM753 144h1v1h-1zM755 145h3v4h-3zM756 149h1v1h-1zM764 116h3v9h-3zM765 114h1v2h-1zM765 125h1v2h-1zM777 122h3v3h-3zM778 125h1v1h-1zM780 122h3v3h-3zM781 120h1v2h-1zM783 123h3v26h-3zM784 120h1v3h-1zM796 125h3v5h-3zM812 111h3v12h-3zM813 105h1v6h-1zM813 123h1v9h-1zM815 118h3v34h-3zM816 116h1v2h-1zM816 152h1v1h-1zM818 151h3v12h-3zM819 150h1v1h-1zM819 163h1v9h-1zM821 162h3v2h-3zM822 161h1v1h-1zM822 164h1v1h-1zM824 160h3v5h-3zM825 165h1v1h-1zM831 149h3v5h-3zM832 146h1v3h-1zM832 154h1v2h-1zM834 157h3v3h-3zM835 154h1v3h-1zM835 160h1v2h-1zM837 164h3v11h-3zM838 163h1v1h-1zM838 175h1v7h-1zM840 165h3v10h-3zM841 163h1v2h-1zM843 178h3v8h-3zM844 186h1v1h-1zM846 192h3v3h-3zM847 191h1v1h-1zM847 195h1v14h-1zM878 107h3v7h-3zM884 102h3v3h-3zM885 91h1v11h-1zM885 105h1v3h-1zM887 122h3v21h-3zM888 117h1v5h-1zM888 143h1v17h-1zM897 143h3v6h-3zM898 139h1v4h-1zM898 149h1v4h-1zM903 143h3v2h-3zM904 140h1v3h-1zM904 145h1v1h-1zM906 146h3v11h-3zM907 142h1v4h-1zM909 157h3v4h-3zM910 155h1v2h-1zM910 161h1v1h-1zM915 149h3v5h-3zM916 148h1v1h-1zM937 126h3v9h-3zM938 135h1v1h-1zM941 134h3v28h-3zM942 133h1v1h-1zM942 162h1v8h-1zM944 168h3v23h-3zM945 165h1v3h-1zM945 191h1v1h-1zM947 188h3v12h-3zM948 180h1v8h-1zM948 200h1v9h-1zM950 198h3v60h-3zM951 196h1v2h-1zM953 267h3v10h-3zM954 277h1v1h-1zM959 266h3v14h-3zM960 265h1v1h-1zM960 280h1v1h-1zM966 276h3v26h-3zM967 271h1v5h-1zM969 283h3v3h-3zM991 220h3v12h-3zM992 219h1v1h-1zM992 232h1v2h-1zM997 216h3v8h-3zM998 210h1v6h-1zM1019 175h3v14h-3zM1020 189h1v1h-1zM1022 189h3v7h-3zM1023 188h1v1h-1zM1023 196h1v2h-1zM1029 178h3v3h-3zM1030 177h1v1h-1zM1030 181h1v2h-1zM1032 175h3v5h-3zM1033 180h1v2h-1zM1035 179h3v2h-3zM1036 181h1v2h-1zM1038 195h3v15h-3zM1039 194h1v1h-1zM1039 210h1v8h-1zM1041 200h3v11h-3zM1042 197h1v3h-1zM1042 211h1v1h-1zM1044 201h3v8h-3zM1048 203h3v9h-3zM1049 200h1v3h-1zM1049 212h1v3h-1zM1057 179h3v11h-3zM1058 178h1v1h-1zM1058 190h1v1h-1zM1060 194h3v5h-3zM1061 193h1v1h-1zM1070 191h3v2h-3zM1071 189h1v2h-1zM1071 193h1v1h-1zM1073 196h3v28h-3zM1074 195h1v1h-1zM1074 224h1v1h-1zM1076 224h3v2h-3zM1077 221h1v3h-1zM1077 226h1v2h-1zM1082 217h3v23h-3zM1083 214h1v3h-1zM1083 240h1v4h-1zM1092 220h3v6h-3zM1093 219h1v1h-1zM1098 227h3v14h-3zM1099 223h1v4h-1zM1099 241h1v1h-1zM1101 236h3v10h-3zM1102 231h1v5h-1zM1102 246h1v4h-1zM1117 240h3v4h-3zM1118 244h1v3h-1zM1126 239h3v3h-3zM1127 238h1v1h-1zM1127 242h1v3h-1zM1129 239h3v13h-3zM1130 252h1v2h-1zM1132 253h3v15h-3zM1133 252h1v1h-1zM1133 268h1v9h-1zM1136 267h3v12h-3zM1137 266h1v1h-1zM1154 239h3v8h-3zM1155 236h1v3h-1zM1158 247h3v2h-3zM1159 246h1v1h-1zM1161 248h3v20h-3zM1162 246h1v2h-1zM1162 268h1v2h-1zM1164 272h3v4h-3zM1170 284h3v10h-3zM1171 277h1v7h-1zM1173 273h3v10h-3zM1174 266h1v7h-1zM1174 283h1v1h-1zM1176 271h3v9h-3zM1177 270h1v1h-1zM1177 280h1v5h-1zM1183 263h3v17h-3zM1184 262h1v1h-1zM1184 280h1v2h-1zM1198 240h3v8h-3zM1199 237h1v3h-1zM1205 244h3v6h-3zM1206 240h1v4h-1zM1208 250h3v2h-3zM1209 248h1v2h-1zM1209 252h1v3h-1zM1211 251h3v1h-3zM1212 250h1v1h-1zM1212 252h1v1h-1zM1217 255h3v8h-3zM1218 254h1v1h-1zM1218 263h1v4h-1zM1220 263h3v1h-3zM1224 266h3v9h-3zM1225 275h1v4h-1zM1236 228h3v19h-3zM1237 219h1v9h-1zM1237 247h1v9h-1zM1239 242h3v7h-3zM1240 241h1v1h-1zM1243 247h3v14h-3zM1244 245h1v2h-1zM1244 261h1v3h-1zM1246 265h3v5h-3zM1247 262h1v3h-1zM1247 270h1v1h-1zM1252 268h3v1h-3zM1253 266h1v2h-1zM1253 269h1v2h-1zM1255 268h3v2h-3zM1256 267h1v1h-1zM1256 270h1v1h-1zM1258 269h3v7h-3zM1259 276h1v1h-1zM1261 274h3v5h-3zM1262 272h1v2h-1zM1265 278h3v10h-3zM1266 277h1v1h-1zM1266 288h1v4h-1zM1274 286h3v11h-3zM1275 285h1v1h-1zM1275 297h1v8h-1zM1287 253h3v7h-3zM1288 250h1v3h-1zM1288 260h1v1h-1zM1296 238h3v25h-3zM1297 233h1v5h-1zM1297 263h1v7h-1zM1302 262h3v31h-3zM1303 256h1v6h-1zM1303 293h1v1h-1zM1305 286h3v13h-3zM1306 283h1v3h-1zM1306 299h1v1h-1zM1318 262h3v3h-3zM1319 261h1v1h-1zM1319 265h1v1h-1zM1321 262h3v12h-3zM1322 261h1v1h-1zM1322 274h1v9h-1zM1327 274h3v2h-3zM1328 272h1v2h-1zM1328 276h1v1h-1zM1334 266h3v8h-3zM1335 265h1v1h-1zM1335 274h1v4h-1zM1340 271h3v15h-3zM1341 286h1v1h-1zM1349 256h3v4h-3zM1350 253h1v3h-1zM1353 257h3v10h-3zM1354 250h1v7h-1zM1354 267h1v2h-1zM1359 259h3v4h-3zM1360 255h1v4h-1zM1360 263h1v1h-1zM1365 259h3v1h-3zM1366 258h1v1h-1zM1366 260h1v1h-1zM1371 263h3v22h-3zM1372 262h1v1h-1zM1372 285h1v3h-1zM1375 290h3v2h-3zM1376 289h1v1h-1zM1378 287h3v7h-3zM1379 294h1v1h-1zM1384 284h3v10h-3zM1385 283h1v1h-1zM1387 286h3v10h-3zM1388 281h1v5h-1zM1388 296h1v2h-1zM1403 268h3v5h-3zM1404 273h1v1h-1zM1406 270h3v16h-3zM1407 269h1v1h-1zM1407 286h1v9h-1zM1409 287h3v2h-3zM1410 289h1v1h-1zM1415 289h3v2h-3zM1416 286h1v3h-1zM1416 291h1v3h-1zM1419 285h3v6h-3zM1420 284h1v1h-1zM1422 286h3v7h-3zM1423 283h1v3h-1zM1428 276h3v11h-3zM1429 275h1v1h-1zM1429 287h1v5h-1zM1431 283h3v5h-3zM1432 282h1v1h-1zM1432 288h1v3h-1zM1434 288h3v8h-3zM1435 286h1v2h-1zM1441 291h3v10h-3zM1442 288h1v3h-1zM1442 301h1v15h-1zM1456 277h3v4h-3zM1460 295h3v2h-3zM1461 293h1v2h-1zM1461 297h1v3h-1zM1469 283h3v11h-3zM1470 281h1v2h-1zM1475 277h3v4h-3zM1476 274h1v3h-1zM1476 281h1v1h-1zM1482 274h3v2h-3zM1483 272h1v2h-1zM1483 276h1v1h-1zM1485 277h3v1h-3zM1486 276h1v1h-1zM1486 278h1v2h-1zM1494 273h3v5h-3zM1495 272h1v1h-1zM1500 271h3v11h-3zM1501 267h1v4h-1zM1501 282h1v7h-1zM1507 269h3v1h-3zM1508 268h1v1h-1zM1516 268h3v10h-3zM1517 265h1v3h-1zM1517 278h1v1h-1zM1526 272h3v17h-3zM1527 270h1v2h-1zM1527 289h1v2h-1zM1529 289h3v3h-3zM1530 292h1v1h-1zM1538 289h3v2h-3zM1539 291h1v1h-1zM1541 291h3v14h-3zM1542 289h1v2h-1zM1548 303h3v5h-3zM1549 308h1v1h-1zM1551 305h3v2h-3zM1554 311h3v8h-3zM1555 309h1v2h-1zM1557 311h3v3h-3zM1558 310h1v1h-1zM1558 314h1v2h-1z" fill="#ef5350" shape-rendering="crispEdges"/>
<polyline points="2.5,387.2 5.6,387.2 8.7,387.1 11.8,387.0 14.9,386.7 18.2,386.0 21.5,385.1 24.8,384.3 28.1,383.8 31.4,383.4 34.7,383.0 38.0,382.6 41.3,382.1 44.6,381.6 47.9,381.0 51.2,380.4 54.5,379.9 57.8,379.3 61.1,378.8 64.4,378.2 67.7,377.7 71.0,377.3 74.3,376.8 77.6,376.4 81.0,376.1 84.3,375.8 87.6,375.5 90.9,375.2 94.2,374.9 97.5,374.6 100.8,374.3 104.1,374.1 107.4,373.8 110.7,373.6 114.0,373.4 117.3,373.1 120.6,372.9 123.9,372.7 127.2,372.5 130.5,372.3 133.8,372.1 137.1,372.0 140.4,371.9 143.7,371.8 147.0,371.7 150.3,371.6 153.6,371.6 156.9,371.5 160.3,371.5 163.6,371.5 166.9,371.5 170.2,371.5 173.5,371.4 176.8,371.2 180.1,371.1 183.4,370.9 186.7,370.6 190.0,370.2 193.3,369.7 196.6,369.0 199.9,368.3 203.2,367.6 206.5,366.9 209.8,366.3 213.1,365.8 216.4,365.2 219.7,364.7 223.0,364.1 226.3,363.5 229.6,362.8 232.9,362.1 236.2,361.5 239.6,360.8 242.9,360.1 246.2,359.5 249.5,358.8 252.8,358.2 256.1,357.5 259.4,356.8 262.7,356.0 266.0,355.3 269.3,354.7 272.6,354.2 276.3,354.0 280.0,353.5 283.1,352.9 286.3,352.2 289.4,351.4 292.6,350.6 295.7,349.7 298.9,348.8 302.0,348.0 305.2,347.1 308.5,346.3 311.7,345.5 314.9,344.6 318.1,343.6 321.3,342.4 324.5,341.1 327.7,339.6 330.9,338.0 334.1,336.3 337.4,334.5 340.6,332.8 343.7,331.3 346.9,329.6 350.0,328.0 353.2,326.3 356.3,324.7 359.5,323.2 362.6,321.8 365.7,320.6 368.9,319.6 372.0,318.6 375.2,317.7 378.3,316.9 381.5,315.9 384.6,314.9 387.8,313.6 391.0,312.4 394.3,311.0 397.5,309.7 400.7,308.2 403.9,306.7 407.1,305.0 410.3,303.2 413.5,301.4 416.7,299.5 420.0,297.6 423.2,295.6 426.3,294.0 429.5,292.3 432.6,290.6 435.8,288.8 438.9,287.0 442.1,285.2 445.2,283.2 448.3,281.2 451.5,279.1 454.6,277.0 457.8,274.7 460.9,272.5 464.1,270.3 467.2,268.1 470.4,265.6 473.6,263.2 476.9,260.7 480.1,258.2 483.3,255.6 486.5,253.0 489.7,250.1 492.9,247.0 496.1,243.9 499.3,240.8 502.6,237.8 505.8,235.1 508.9,232.9 512.1,230.8 515.2,228.9 518.4,227.0 521.5,225.1 524.7,223.2 527.8,221.3 530.9,219.3 534.1,217.4 537.2,215.5 540.4,213.5 543.5,211.6 546.7,209.6 549.8,207.5 553.0,205.4 556.1,203.2 559.3,201.0 562.4,198.8 565.6,196.6 568.7,194.4 571.9,192.4 575.1,190.1 578.3,187.8 581.5,185.5 584.7,183.4 587.9,181.6 591.1,180.0 594.7,177.3 598.2,175.5 601.6,173.7 604.9,171.8 608.2,169.7 611.5,168.1 614.8,166.3 618.1,164.6 621.4,163.1 624.7,161.6 628.0,160.3 631.3,159.0 634.6,158.0 637.9,156.9 641.2,155.9 644.5,154.9 648.4,153.5 652.2,152.1 656.1,150.7 659.9,149.4 663.8,148.1 667.6,146.6 670.9,145.2 674.2,143.7 677.5,142.2 680.9,140.8 684.2,139.3 687.5,137.9 690.8,136.7 693.8,135.6 696.9,134.6 699.9,133.7 703.2,132.8 706.5,132.0 709.8,131.2 713.1,130.7 716.4,130.3 719.7,130.0 723.0,129.6 726.3,129.1 729.6,128.7 733.0,128.3 736.3,127.9 739.6,127.5 742.9,127.1 746.2,126.6 749.5,126.3 752.8,125.9 756.1,125.5 759.4,125.2 762.7,124.9 766.0,124.7 769.3,124.5 772.6,124.4 775.9,124.3 779.2,124.2 782.5,124.1 785.8,124.1 789.1,124.3 792.4,124.6 795.7,125.1 799.0,125.7 802.3,126.3 805.6,126.9 808.9,127.5 812.3,128.2 815.6,128.7 818.9,129.2 822.2,129.6 825.5,130.0 828.8,130.4 832.1,130.7 835.4,131.0 838.7,131.2 842.0,131.5 845.3,131.9 848.6,132.3 851.9,132.7 855.2,133.2 858.5,133.7 861.8,134.3 865.1,134.9 868.4,135.3 871.7,135.6 875.0,135.8 878.3,136.0 881.6,136.2 884.9,136.5 888.2,136.8 891.6,137.2 894.9,137.5 898.2,137.8 901.5,138.1 904.8,138.4 908.1,138.6 911.4,138.9 914.7,139.0 918.0,139.1 921.3,139.1 924.6,139.0 927.9,138.6 931.2,138.3 934.5,138.2 937.8,138.1 941.1,138.2 944.4,138.6 947.7,139.5 951.0,140.7 954.3,142.0 957.6,143.3 960.9,144.7 964.2,146.1 967.5,147.5 970.9,148.8 974.2,150.2 977.5,151.7 980.8,153.1 984.1,154.3 990.0,156.3 993.1,157.2 996.1,158.3 999.2,159.5 1002.2,160.7 1005.3,161.8 1008.3,162.7 1011.6,163.4 1014.9,163.9 1018.1,164.4 1021.4,164.8 1024.6,165.2 1027.9,165.7 1031.2,166.2 1034.4,166.8 1037.7,167.3 1041.0,167.9 1044.2,168.5 1047.5,169.2 1050.7,169.8 1054.0,170.5 1057.3,171.2 1060.5,171.9 1063.8,172.7 1067.1,173.5 1070.3,174.4 1073.6,175.3 1076.9,176.3 1080.1,177.4 1083.4,178.4 1086.6,179.4 1089.9,180.3 1093.2,181.3 1096.4,182.2 1099.7,183.2 1103.0,184.2 1106.2,185.2 1109.5,186.3 1112.8,187.5 1116.0,188.7 1119.3,189.9 1122.5,191.0 1125.8,192.1 1129.1,193.1 1132.3,194.2 1135.6,195.2 1138.9,196.1 1142.1,197.1 1145.4,198.0 1148.7,198.8 1151.9,199.5 1155.2,200.2 1158.4,201.0 1161.7,201.8 1165.0,202.9 1168.2,204.1 1171.5,205.6 1174.8,207.2 1178.0,208.7 1181.3,210.3 1184.6,211.7 1187.7,213.2 1190.8,214.6 1194.0,216.0 1197.1,217.3 1200.2,218.5 1203.4,219.9 1206.5,221.2 1209.6,222.5 1212.7,223.6 1215.9,224.4 1220.0,225.2 1223.9,226.5 1227.8,228.3 1231.7,230.1 1235.7,232.1 1239.6,234.2 1243.5,236.0 1247.4,237.4 1251.3,238.5 1255.2,239.3 1259.2,240.0 1263.1,240.5 1267.0,240.9 1270.9,241.2 1274.8,241.4 1278.7,241.5 1282.7,241.3 1286.6,241.0 1290.5,240.9 1294.4,241.0 1298.3,241.4 1302.2,241.9 1306.2,242.7 1310.1,243.8 1314.0,244.8 1317.9,245.6 1321.8,246.3 1325.7,247.2 1329.7,248.3 1333.6,249.5 1337.5,250.7 1341.4,251.8 1345.3,252.8 1349.2,253.6 1353.2,254.3 1357.1,254.9 1361.0,255.6 1364.9,256.5 1368.8,257.5 1372.7,258.5 1376.6,259.7 1380.6,261.0 1384.5,262.1 1388.4,262.8 1392.3,263.4 1396.2,264.0 1400.1,264.8 1404.1,265.6 1408.0,266.4 1411.9,267.0 1415.8,267.5 1419.7,267.9 1423.6,268.4 1427.6,268.9 1431.5,269.3 1435.4,269.8 1439.3,270.3 1443.2,270.7 1447.1,270.9 1451.1,271.1 1455.0,271.3 1458.9,271.6 1462.8,271.9 1466.7,272.2 1470.6,272.6 1474.6,272.9 1478.5,273.2 1482.4,273.5 1486.3,273.6 1490.2,273.8 1494.1,274.0 1498.0,274.1 1502.0,274.2 1505.9,274.3 1509.8,274.5 1513.7,274.6 1518.5,274.4 1522.1,274.6 1525.7,274.8 1529.3,275.1 1533.3,275.5 1537.4,276.1 1541.4,276.7 1545.5,277.4 1548.8,278.1 1552.2,278.9 1555.8,279.8 1559.3,280.5" fill="none" stroke="#3f9a42" stroke-width="1.1" stroke-linejoin="round" stroke-linecap="round" />
<polyline points="2.5,377.2 6.1,377.7 9.6,378.5 13.2,379.3 17.1,380.0 20.9,380.7 24.8,381.3 28.9,381.9 33.0,382.1 37.2,381.9 41.3,381.4 45.4,381.0 49.6,380.1 52.9,379.6 56.2,378.9 59.5,378.2 62.8,377.5 66.1,376.8 69.4,376.2 72.7,375.6 76.0,374.9 79.3,374.4 82.6,373.8 85.9,373.4 89.2,372.9 92.5,372.5 95.8,372.2 99.1,371.9 102.4,371.6 105.7,371.4 109.0,371.3 112.3,371.2 115.6,371.0 118.9,370.9 122.3,370.9 125.6,370.8 128.9,370.7 132.2,370.7 135.5,370.7 138.8,370.9 142.1,371.0 145.4,370.9 148.7,370.7 152.0,370.2 155.3,369.4 158.6,368.6 161.9,367.7 165.2,366.9 169.3,365.2 173.5,363.6 177.6,361.9 181.7,360.3 185.9,359.0 190.0,357.8 194.1,356.6 198.2,355.3 202.4,354.2 206.5,353.2 210.6,352.8 214.8,352.5 218.9,352.4 223.0,352.0 227.2,351.3 231.3,350.4 235.4,349.6 239.6,348.7 243.7,347.8 247.8,346.8 251.9,345.6 256.1,344.3 260.2,342.8 264.3,341.3 268.5,339.8 272.6,338.3 276.3,337.2 280.0,335.6 283.3,334.5 286.6,333.2 289.9,331.8 293.2,330.3 296.5,328.7 299.7,327.3 302.9,325.8 306.2,324.2 309.4,322.6 312.6,320.8 315.8,319.0 319.0,317.1 322.2,315.1 325.4,312.9 328.6,310.8 331.9,308.7 335.1,306.7 338.3,304.7 341.5,302.8 344.7,301.0 347.9,299.2 351.1,297.4 354.3,295.6 357.6,293.9 360.8,292.3 364.0,290.6 367.2,289.1 370.4,287.5 373.6,286.0 376.9,284.3 380.2,282.6 383.5,281.0 386.8,279.4 390.1,277.7 393.6,275.7 397.0,273.8 400.5,271.7 403.9,269.5 407.3,266.9 410.8,264.1 414.2,261.3 417.7,258.5 421.1,255.7 424.5,253.0 428.0,250.3 431.4,247.5 434.9,244.5 438.3,241.5 441.8,238.4 445.2,235.1 448.6,231.4 452.1,227.5 455.5,223.6 459.0,219.9 462.4,216.7 465.8,213.7 469.3,210.8 472.7,207.5 476.2,203.9 479.6,200.0 483.1,196.0 486.5,192.4 490.2,187.9 493.8,183.7 497.5,180.0 501.1,175.1 504.8,171.7 505.7,171.4 509.0,169.3 512.3,166.5 515.6,163.9 518.9,162.2 522.3,160.8 525.6,159.0 528.9,156.5 532.2,153.5 535.5,150.7 538.8,148.2 542.1,145.7 545.4,143.3 548.7,140.8 552.0,138.3 555.3,135.9 558.6,133.6 561.9,131.4 565.2,129.3 568.5,127.2 571.8,125.3 575.1,123.5 579.2,121.0 583.4,118.8 586.7,117.3 590.0,116.0 594.1,115.1 598.2,114.4 601.6,113.9 604.9,113.5 608.2,113.2 612.0,113.1 615.9,113.2 619.7,113.2 623.4,113.2 627.2,113.2 630.9,113.3 634.6,113.6 638.7,115.0 642.9,116.9 647.0,118.5 651.1,120.2 655.2,122.3 659.4,124.3 662.7,126.0 666.0,127.1 669.3,126.9 672.6,126.0 676.7,124.5 680.9,123.0 685.0,122.2 689.1,121.8 690.0,122.1 693.3,122.4 696.6,122.7 699.9,123.3 703.2,124.4 706.5,125.8 709.8,127.1 713.1,128.0 716.4,128.8 719.7,129.6 723.0,130.3 726.3,131.1 729.6,132.0 733.0,133.4 736.3,135.0 739.6,136.2 742.9,136.6 746.2,136.6 749.5,136.7 752.8,136.8 756.1,137.0 759.4,137.0 762.7,136.9 766.0,136.6 769.3,136.2 772.6,135.4 775.9,134.4 779.2,133.7 782.5,133.5 785.8,133.7 789.1,133.7 792.4,133.5 795.7,133.1 799.0,132.9 802.3,132.7 805.6,132.6 808.9,132.5 812.3,132.4 815.6,132.3 818.9,132.5 822.2,133.2 825.5,134.2 828.8,135.3 832.1,136.7 835.4,138.1 838.7,139.5 842.0,140.7 845.3,141.9 848.6,142.8 852.7,143.7 856.9,144.1 861.0,144.0 865.1,143.6 869.2,142.9 873.4,142.0 877.5,141.1 881.6,140.3 885.8,139.6 889.9,139.1 894.0,139.2 898.2,139.5 902.3,139.8 906.4,140.3 909.7,140.7 913.0,141.1 916.3,141.5 919.6,141.8 922.9,142.2 926.2,142.4 929.6,142.6 932.9,142.7 936.2,142.8 940.3,143.1 944.4,143.6 947.7,144.6 951.0,146.1 954.5,151.0 958.9,155.2 963.3,159.8 967.2,163.9 971.1,167.6 975.0,170.8 979.0,173.5 982.2,175.0 985.5,176.3 988.7,177.4 992.7,178.5 996.6,179.4 1000.5,180.4 1004.4,181.3 1008.3,182.2 1012.2,183.3 1016.2,184.5 1020.1,185.8 1024.0,187.2 1027.9,188.7 1031.8,190.4 1035.7,192.1 1039.7,194.1 1043.6,196.1 1047.5,198.0 1051.4,199.4 1055.3,200.7 1059.2,201.9 1063.2,203.2 1067.1,204.4 1071.0,205.8 1074.9,207.3 1078.8,208.9 1082.7,210.7 1086.0,212.9 1089.3,215.4 1092.5,217.6 1096.4,219.9 1100.4,221.5 1104.3,222.1 1108.2,222.1 1112.1,221.5 1116.0,220.5 1119.9,219.0 1123.9,217.6 1127.1,217.0 1130.4,216.6 1133.6,216.6 1136.9,217.0 1140.2,217.7 1143.4,218.5 1146.7,219.3 1150.0,220.2 1153.2,220.9 1157.1,221.4 1161.1,222.1 1164.3,222.9 1167.6,224.1 1170.8,225.4 1174.8,227.7 1178.7,230.3 1182.6,232.9 1186.5,235.2 1190.4,236.8 1194.3,238.1 1198.3,239.6 1202.2,241.1 1206.1,242.0 1210.0,243.0 1213.9,245.1 1217.8,246.9 1220.0,247.4 1223.9,248.9 1227.8,250.7 1231.7,251.8 1235.7,252.7 1239.6,253.2 1243.5,253.6 1247.4,254.2 1251.3,255.0 1255.2,256.1 1259.2,257.6 1262.4,258.8 1265.7,260.2 1269.0,261.5 1272.2,262.5 1275.5,263.4 1278.7,264.0 1282.0,264.4 1285.3,264.5 1288.5,264.4 1291.8,264.1 1295.1,263.7 1298.3,263.4 1302.2,263.8 1306.2,264.4 1310.1,265.2 1314.0,266.0 1317.9,266.3 1321.8,266.4 1325.7,266.4 1329.7,266.4 1333.6,266.2 1337.5,266.0 1341.4,265.9 1345.3,266.0 1349.2,266.1 1353.2,266.4 1357.1,266.8 1361.0,267.2 1364.9,267.8 1368.8,268.3 1372.7,268.6 1376.6,268.9 1380.6,269.3 1384.5,270.2 1388.4,271.2 1392.3,272.2 1396.2,273.1 1400.1,274.0 1404.1,274.6 1408.0,274.9 1411.9,275.0 1415.8,275.2 1419.7,275.4 1423.6,275.6 1427.6,275.8 1431.5,275.9 1435.4,276.2 1439.3,277.0 1443.2,278.1 1447.1,279.2 1451.1,280.1 1455.0,280.4 1458.9,280.5 1462.8,280.3 1466.7,280.1 1470.6,280.2 1474.6,280.5 1478.5,281.1 1482.4,281.6 1486.3,281.6 1490.2,281.3 1494.1,281.1 1498.0,281.0 1502.0,281.0 1505.9,281.1 1509.8,281.2 1513.7,281.4 1517.5,281.6 1521.2,281.9 1525.3,282.1 1529.3,282.3 1533.3,282.4 1537.4,282.5 1541.4,282.8 1545.5,283.2 1548.8,283.5 1552.2,283.9 1555.8,284.7 1559.3,285.5" fill="none" stroke="#e0352b" stroke-width="1.1" stroke-linejoin="round" stroke-linecap="round" />
<polyline points="2.5,381.8 6.2,382.9 9.9,384.3 14.0,385.5 18.2,386.7 22.3,388.0 26.4,389.2 29.5,389.9 32.5,390.4 35.5,390.5 41.3,388.4 45.4,386.1 49.6,383.4 53.7,380.6 57.8,377.6 62.0,374.8 66.1,371.9 70.2,369.0 74.3,366.1 78.5,363.1 82.6,360.3 86.7,358.0 90.9,356.2 95.0,354.9 99.1,354.2 103.3,354.0 107.4,354.0 111.5,354.1 115.6,354.5 119.8,355.6 123.9,357.0 128.0,358.6 132.2,360.3 136.3,361.6 140.4,362.8 144.6,363.7 148.7,364.4 152.8,365.1 156.9,365.6 161.1,365.8 165.2,365.6 169.3,364.8 173.5,363.6 177.6,362.4 181.7,361.1 185.9,359.6 190.0,357.8 194.1,355.4 198.2,352.9 202.4,350.4 206.5,347.9 210.6,345.1 214.8,342.1 218.9,339.2 223.0,336.3 227.2,333.4 231.3,330.6 235.4,328.3 239.6,326.4 243.7,325.3 247.8,324.5 251.9,323.4 256.1,322.3 260.2,321.3 264.3,320.2 268.5,318.8 272.6,317.3 276.7,315.8 280.9,314.5 285.0,313.8 289.1,313.2 293.2,312.6 297.4,311.2 300.9,310.1 304.3,308.7 307.8,307.0 311.3,305.4 314.8,303.8 318.9,300.2 323.0,296.4 327.2,292.2 331.3,288.1 335.4,285.3 339.6,282.3 343.7,278.1 347.8,273.3 352.0,268.3 356.1,263.3 360.2,258.5 364.3,254.3 369.3,249.3 372.6,247.6 375.9,246.0 379.2,244.6 382.5,243.2 385.8,241.9 390.0,240.2 394.1,238.6 397.4,236.8 400.7,235.3 405.6,233.6 409.8,230.2 413.9,226.2 417.2,222.4 420.5,218.7 424.6,216.0 428.8,213.0 432.1,208.2 435.4,203.0 438.7,198.2 442.0,194.0 446.9,189.0 451.1,183.8 455.2,178.3 458.5,173.9 461.8,170.0 465.6,166.4 469.4,163.1 473.1,160.3 476.8,157.3 481.0,149.9 485.9,139.2 489.2,133.3 492.5,127.6 495.8,122.7 499.1,118.5 504.1,112.7 508.2,109.1 511.9,109.3 515.6,109.9 519.5,110.0 523.4,110.0 527.2,109.9 530.5,109.7 533.8,109.2 537.1,109.0 540.4,109.1 545.4,113.6 549.5,115.1 553.6,116.4 556.7,117.0 559.7,117.6 562.7,118.0 566.9,118.6 571.0,118.5 575.1,115.2 580.1,111.9 585.0,107.8 590.0,105.3 593.3,104.5 596.6,104.1 599.9,104.4 603.2,105.3 606.5,106.7 609.8,108.6 614.8,113.6 619.7,118.5 623.0,120.7 626.3,122.6 631.3,126.0 634.6,127.9 637.9,130.1 641.2,132.6 644.5,135.0 647.8,137.3 651.1,139.2 654.4,140.1 657.7,140.8 661.0,142.1 664.3,143.3 667.6,144.1 672.6,140.8 675.9,137.5 679.2,134.2 682.5,132.0 685.8,130.6 689.1,129.8 692.4,129.6 696.2,129.8 699.9,130.4 703.2,130.9 706.5,131.6 709.8,132.0 713.1,132.1 716.4,131.9 719.7,131.7 723.0,131.7 726.3,131.8 729.6,132.1 733.0,132.9 737.1,135.2 741.2,137.8 744.5,139.1 747.8,140.2 751.1,141.1 755.3,142.3 759.4,142.4 763.5,140.4 767.6,137.8 771.8,136.4 775.9,135.3 779.2,134.1 782.5,133.2 785.8,133.0 789.1,133.0 792.4,132.9 795.7,132.4 799.0,131.9 802.3,131.2 806.5,130.0 810.6,129.1 813.9,129.1 817.2,129.5 820.5,130.4 823.8,132.0 827.1,134.1 830.4,136.2 834.6,139.0 838.7,142.0 842.8,145.8 846.9,149.4 851.1,151.8 855.2,153.5 859.3,155.0 863.5,156.0 866.8,156.1 870.1,155.9 873.4,155.5 876.7,154.5 880.0,152.7 883.3,149.3 886.6,146.1 889.9,145.4 893.2,145.3 897.3,144.7 901.5,143.6 904.8,141.9 908.1,139.7 911.4,137.8 915.5,136.3 919.6,135.3 923.8,134.7 927.9,134.5 932.0,134.9 936.2,136.2 940.3,138.5 944.4,142.0 947.7,147.2 951.0,152.7 954.3,160.1 955.5,161.7 959.4,168.6 963.3,177.4 967.2,185.9 971.1,194.1 975.0,201.2 979.0,207.8 982.9,214.3 986.8,220.5 990.7,226.6 994.6,232.2 1000.5,241.1 1006.4,245.9 1012.2,245.9 1018.1,240.1 1024.0,232.2 1029.9,222.4 1035.7,211.7 1041.6,205.8 1045.5,204.6 1049.4,203.8 1053.4,203.1 1057.3,201.9 1061.2,199.5 1065.1,197.0 1071.0,194.6 1074.9,195.1 1078.8,196.6 1082.7,199.0 1086.6,201.9 1090.6,204.9 1094.5,207.8 1098.4,210.4 1102.3,212.7 1105.6,213.6 1108.8,214.3 1112.1,215.6 1115.4,217.8 1118.6,220.6 1121.9,223.4 1125.8,227.4 1129.7,231.3 1133.6,234.9 1137.6,238.1 1141.5,240.8 1145.4,243.0 1149.3,244.7 1153.2,245.9 1157.1,246.8 1161.1,247.9 1165.0,250.1 1168.9,252.8 1172.8,255.7 1176.7,258.7 1180.6,261.8 1184.6,264.5 1188.5,266.4 1192.4,267.1 1196.3,265.6 1200.2,263.6 1204.1,262.4 1208.0,261.6 1212.0,261.2 1215.9,261.2 1219.8,262.0 1223.8,263.1 1227.8,263.4 1231.7,261.3 1235.7,258.5 1241.5,255.6 1245.5,254.7 1249.4,254.6 1252.6,255.2 1255.9,256.3 1259.2,257.6 1262.4,259.0 1265.7,260.7 1269.0,262.4 1272.2,264.6 1275.5,266.8 1278.7,268.3 1282.7,268.8 1286.6,268.3 1290.5,267.1 1294.4,266.4 1298.3,268.0 1302.2,270.3 1306.2,272.4 1310.1,274.2 1314.0,275.3 1317.9,275.8 1321.8,275.7 1325.7,275.2 1329.7,274.3 1333.6,273.2 1337.5,271.6 1341.4,270.3 1345.3,270.0 1349.2,270.3 1353.2,271.5 1357.1,272.6 1361.0,272.8 1364.9,272.2 1368.8,270.7 1372.7,269.3 1376.6,269.5 1380.6,270.3 1384.5,271.2 1388.4,272.2 1392.3,273.3 1396.2,274.2 1400.1,274.6 1404.1,275.2 1408.0,276.5 1411.9,278.1 1415.8,280.1 1419.7,282.0 1423.6,283.7 1427.6,285.0 1431.5,285.6 1435.4,285.9 1439.3,286.5 1443.2,286.9 1447.1,287.0 1451.1,286.9 1455.0,286.4 1458.9,285.9 1462.8,286.4 1466.7,286.9 1470.6,287.1 1474.6,286.9 1478.5,286.1 1482.4,285.0 1486.3,283.9 1490.2,283.0 1494.1,282.5 1498.0,282.0 1502.0,281.7 1505.9,281.1 1509.8,279.6 1513.7,278.1 1518.5,276.9 1523.9,276.1 1529.3,276.1 1534.7,276.5 1540.1,277.8 1545.5,280.5 1550.8,283.2 1556.2,285.9 1559.3,287.6" fill="none" stroke="#2323e0" stroke-width="1.1" stroke-linejoin="round" stroke-linecap="round" />
<polyline points="2.5,425.9 5.5,425.6 8.6,425.1 11.6,424.6 14.7,424.1 17.8,423.5 20.8,422.8 23.9,422.2 26.9,421.5 30.0,420.9 33.0,420.3 36.0,419.7 39.0,419.2 42.1,418.6 45.1,418.0 48.1,417.4 51.1,416.9 54.1,416.3 57.1,415.7 60.1,415.1 63.1,414.5 66.1,414.0 69.1,413.4 72.1,412.9 75.1,412.4 78.1,411.9 81.1,411.3 84.1,410.8 87.1,410.3 90.1,409.8 93.1,409.3 96.1,408.7 99.1,408.2 102.1,407.7 105.1,407.1 108.1,406.6 111.1,406.1 114.1,405.5 117.1,405.0 120.2,404.5 123.2,403.9 126.2,403.4 129.2,402.9 132.2,402.4 135.2,401.9 138.2,401.5 141.2,401.0 144.2,400.5 147.2,400.0 150.2,399.6 153.2,399.1 156.2,398.7 159.2,398.3 162.2,397.9 165.2,397.5 168.3,397.0 171.4,396.6 174.5,396.2 177.6,395.8 180.7,395.5 183.8,395.1 186.9,394.6 190.0,394.2 193.1,393.6 196.2,393.1 199.3,392.5 202.4,391.8 205.5,391.2 208.6,390.5 211.7,389.9 214.8,389.2 217.9,388.5 221.0,387.8 224.1,387.1 227.2,386.4 230.3,385.7 233.4,385.0 236.5,384.2 239.6,383.4 242.6,382.6 245.7,381.8 248.8,380.9 251.9,380.0 255.0,379.2 258.1,378.3 261.2,377.5 264.3,376.8 267.6,375.5 270.9,374.3 274.2,373.4 277.5,372.7 280.0,372.7 283.2,372.4 286.4,372.0 289.5,371.5 292.7,370.9 295.9,370.3 299.1,369.7 302.2,369.0 305.4,368.3 308.6,367.6 311.8,366.8 314.9,366.1 318.1,365.3 321.3,364.5 324.5,363.6 327.7,362.8 330.8,361.9 334.0,360.9 337.2,359.9 340.4,359.0 343.5,357.9 346.7,356.9 349.9,355.9 353.1,354.9 356.2,354.0 359.4,353.0 362.6,352.1 365.8,351.2 369.0,350.3 372.1,349.4 375.3,348.5 378.5,347.7 381.7,346.8 384.8,346.0 388.0,345.1 391.2,344.3 394.4,343.5 397.5,342.7 400.7,341.9 403.9,341.1 407.0,339.9 410.0,338.9 413.1,337.8 416.1,336.8 419.2,335.7 422.3,334.7 425.3,333.6 428.4,332.6 431.4,331.4 434.5,330.3 437.6,329.1 440.6,327.9 443.7,326.6 446.7,325.4 449.8,324.1 452.8,322.9 455.9,321.6 459.0,320.4 462.0,319.2 465.1,318.0 468.1,316.7 471.2,315.5 474.3,314.3 477.3,313.1 480.4,311.9 483.4,310.6 486.5,309.4 489.6,308.2 492.6,306.9 495.7,305.7 498.7,304.4 501.8,303.2 504.9,302.0 507.9,300.7 511.0,299.6 514.0,298.4 517.1,297.3 520.1,296.2 523.2,295.2 526.3,294.2 529.3,293.2 532.4,292.1 535.4,291.1 538.5,289.9 541.6,288.8 544.6,287.5 547.7,286.2 550.7,284.8 553.8,283.4 556.9,281.9 559.9,280.5 563.0,279.1 566.0,277.7 569.1,276.4 572.2,275.1 575.2,273.8 578.3,272.6 581.3,271.4 584.4,270.2 587.5,269.0 590.5,267.8 593.6,266.6 596.6,265.4 599.7,264.1 602.7,262.9 605.8,261.7 608.9,260.5 611.9,259.2 615.0,258.0 618.0,256.8 621.1,255.6 624.2,254.3 627.2,253.1 630.3,251.9 633.3,250.7 636.4,249.4 639.5,248.2 642.5,247.0 645.6,245.8 648.6,244.5 651.7,243.3 654.8,242.1 657.8,240.9 660.9,239.6 663.9,238.4 667.0,237.1 670.1,235.9 673.1,234.7 676.2,233.5 679.2,232.3 682.3,231.2 685.3,230.1 688.4,229.0 691.5,227.9 694.5,226.9 697.6,225.8 700.6,224.8 703.7,223.7 706.8,222.7 709.8,221.6 712.9,220.5 715.9,219.5 719.0,218.4 722.1,217.3 725.1,216.3 728.2,215.2 731.2,214.1 734.3,213.0 737.4,212.0 740.4,210.9 743.5,209.7 746.5,208.6 749.6,207.5 752.7,206.5 755.7,205.4 758.8,204.4 761.8,203.4 764.9,202.0 767.9,200.5 770.9,199.2 773.9,197.9 777.0,196.8 780.0,196.0 780.9,194.8 784.2,194.0 787.5,192.8 790.8,191.6 794.1,190.3 797.4,189.0 800.7,187.9 804.0,186.6 807.3,185.4 810.6,184.3 813.9,183.3 817.2,182.3 820.5,181.5 823.8,180.7 827.1,179.9 830.4,179.1 833.7,178.3 837.0,177.5 840.3,176.7 843.6,175.9 846.9,175.0 850.3,174.1 853.6,173.1 856.9,172.1 860.2,171.1 863.5,170.0 866.8,168.9 870.1,167.7 873.4,166.5 876.7,165.3 880.0,164.3 883.3,163.3 886.6,162.5 889.9,161.7 893.2,160.9 896.5,160.1 899.8,159.3 903.1,158.5 906.4,157.6 909.7,156.8 913.0,156.0 916.3,155.1 919.6,154.3 922.9,153.4 926.2,152.6 929.6,151.9 933.4,150.8 937.3,150.0 941.1,149.4 944.4,149.1 947.7,149.0 951.0,149.1 954.3,149.2 957.6,149.3 960.9,149.6 964.2,149.8 967.5,150.0 970.9,150.2 974.0,150.4 977.2,150.6 980.4,150.8 983.6,151.0 986.8,151.1 990.0,151.0 993.1,150.8 996.1,150.5 999.2,150.1 1002.2,149.6 1005.3,149.3 1008.3,149.0 1011.3,148.9 1014.3,148.9 1017.4,148.8 1020.4,148.8 1023.4,148.8 1026.4,148.8 1029.4,148.8 1032.4,148.8 1035.4,148.8 1038.4,148.8 1041.5,148.9 1044.5,149.0 1047.5,149.0 1050.5,149.1 1053.5,149.2 1056.5,149.3 1059.5,149.4 1062.5,149.5 1065.6,149.7 1068.6,149.8 1071.6,150.0 1074.6,150.2 1077.6,150.4 1080.6,150.6 1083.6,150.8 1086.6,151.0 1089.9,151.5 1093.2,152.1 1096.4,152.8 1099.7,153.4 1103.0,154.2 1106.2,154.9 1109.5,155.7 1112.8,156.5 1116.0,157.3 1119.3,158.2 1122.5,159.0 1125.8,159.8 1129.1,160.5 1132.3,161.3 1135.6,162.0 1138.9,162.7 1142.1,163.4 1145.4,164.1 1148.7,164.8 1151.9,165.6 1155.2,166.3 1158.4,167.1 1161.7,167.8 1165.0,168.6 1168.2,169.4 1171.5,170.2 1174.8,171.0 1178.0,171.9 1181.3,172.7 1184.6,173.5 1187.8,174.3 1191.1,175.1 1194.3,175.9 1197.6,176.8 1200.9,177.6 1204.1,178.4 1207.4,179.2 1210.7,180.0 1213.9,180.7 1217.2,181.5 1220.5,182.4 1223.7,183.3 1226.9,183.9 1230.0,184.6 1233.2,185.3 1236.3,186.0 1239.5,186.7 1242.6,187.4 1245.8,188.1 1248.9,188.8 1252.1,189.4 1255.2,190.0 1258.5,190.8 1261.8,191.5 1265.0,192.1 1268.3,192.7 1271.6,193.3 1274.8,193.9 1278.2,194.5 1281.5,195.0 1284.9,195.5 1288.3,196.0 1291.6,196.6 1295.0,197.2 1298.3,197.8 1301.6,198.7 1304.9,199.6 1308.1,200.5 1311.4,201.5 1314.6,202.5 1317.9,203.3 1321.2,204.1 1324.4,204.9 1327.7,205.6 1331.0,206.3 1334.2,207.0 1337.5,207.6 1340.7,208.2 1344.0,208.8 1347.3,209.4 1350.5,209.9 1353.8,210.5 1357.1,211.1 1360.3,211.8 1363.6,212.5 1366.9,213.2 1370.1,213.9 1373.4,214.7 1376.6,215.5 1379.9,216.3 1383.2,217.2 1386.4,218.1 1389.7,219.1 1393.0,220.0 1396.2,220.9 1399.5,221.8 1402.8,222.7 1406.0,223.6 1409.3,224.5 1412.5,225.4 1415.8,226.2 1419.1,227.1 1422.3,227.9 1425.6,228.8 1428.9,229.6 1432.1,230.4 1435.4,231.1 1438.7,231.8 1441.9,232.5 1445.2,233.2 1448.4,233.8 1451.7,234.5 1455.0,235.0 1458.2,235.6 1461.5,236.1 1464.8,236.5 1468.0,237.0 1471.3,237.5 1474.6,238.0 1477.8,238.5 1481.1,239.0 1484.3,239.6 1487.6,240.1 1490.9,240.7 1494.1,241.3 1497.5,242.2 1500.9,243.1 1504.3,244.1 1507.7,245.2 1511.1,245.9 1514.5,246.7 1517.8,247.6 1521.2,248.4 1524.6,249.3 1527.9,250.1 1531.3,250.9 1534.7,251.5 1538.0,252.6 1541.4,253.3 1544.8,254.0 1548.1,254.6 1551.2,255.5 1554.2,256.3 1557.2,257.1 1560.3,257.6" fill="none" stroke="#9c27b0" stroke-width="3.1" stroke-linejoin="round" stroke-linecap="butt" />
<line x1="341.7" y1="221" x2="1593.5" y2="221" stroke="#f23645" stroke-width="2"/>
<rect x="477.5" y="167.5" width="1116" height="3" fill="#f44336" fill-opacity="0.1" stroke="#f44336" stroke-width="1" shape-rendering="crispEdges"/>
<line x1="1386" y1="266" x2="1593.5" y2="266" stroke="#f23645" stroke-width="2"/>
<line x1="55.8" y1="333" x2="1593.5" y2="333" stroke="#4caf50" stroke-width="2"/>
<line x1="99" y1="376" x2="1593.5" y2="376" stroke="#4caf50" stroke-width="2"/>
<line x1="1480" y1="268.4" x2="1546" y2="263.7" stroke="#4caf50" stroke-width="1.6"/>
<line x1="486.4" y1="52.8" x2="863.5" y2="116" stroke="#fff" stroke-width="2.2" stroke-linecap="round"/>
<line x1="1059.2" y1="170.6" x2="1590" y2="310.8" stroke="#fff" stroke-width="2.2" stroke-linecap="round"/>
<rect x="936.5" y="301.5" width="664" height="7.5" fill="#4caf50" fill-opacity="0.3" stroke="#4caf50" stroke-opacity="0.45" stroke-width="1"/>
<line x1="1694" y1="54.5" x2="1760" y2="54.5" stroke="#fff" stroke-width="1" shape-rendering="crispEdges"/>
<line x1="1694" y1="155.5" x2="1760" y2="155.5" stroke="#fff" stroke-width="1" shape-rendering="crispEdges"/>
<line x1="1694" y1="217.5" x2="1760" y2="217.5" stroke="#fff" stroke-width="1" shape-rendering="crispEdges"/>
<line x1="1694" y1="268.5" x2="1760" y2="268.5" stroke="#fff" stroke-width="1" shape-rendering="crispEdges"/>
<line x1="1694" y1="319.5" x2="1760" y2="319.5" stroke="#fff" stroke-width="1" shape-rendering="crispEdges"/>
<line x1="1694" y1="391.5" x2="1760" y2="391.5" stroke="#fff" stroke-width="1" shape-rendering="crispEdges"/>
<line x1="1694" y1="482.5" x2="1760" y2="482.5" stroke="#fff" stroke-width="1" shape-rendering="crispEdges"/>
</g>
<text x="1634.6" y="48" font-size="12" fill="#fff" text-anchor="start" font-weight="bold" textLength="51.1" lengthAdjust="spacingAndGlyphs" >0(1710.0)</text>
<text x="1611.6" y="149" font-size="12" fill="#fff" text-anchor="start" font-weight="bold" textLength="74.1" lengthAdjust="spacingAndGlyphs" >0.236(1370.6)</text>
<text x="1611.6" y="211.4" font-size="12" fill="#fff" text-anchor="start" font-weight="bold" textLength="74.1" lengthAdjust="spacingAndGlyphs" >0.382(1160.6)</text>
<text x="1630.2" y="262" font-size="12" fill="#fff" text-anchor="start" font-weight="bold" textLength="55.5" lengthAdjust="spacingAndGlyphs" >0.5(990.9)</text>
<text x="1618.3" y="313" font-size="12" fill="#fff" text-anchor="start" font-weight="bold" textLength="67.4" lengthAdjust="spacingAndGlyphs" >0.618(821.2)</text>
<text x="1618.3" y="385" font-size="12" fill="#fff" text-anchor="start" font-weight="bold" textLength="67.4" lengthAdjust="spacingAndGlyphs" >0.786(579.7)</text>
<text x="1641.5" y="476.5" font-size="12" fill="#fff" text-anchor="start" font-weight="bold" textLength="44.2" lengthAdjust="spacingAndGlyphs" >1(271.9)</text>
<text x="1564.3" y="160" font-size="13.5" fill="#fff" text-anchor="start" font-weight="bold" textLength="29.4" lengthAdjust="spacingAndGlyphs" >1315</text>
<text x="1559.8" y="214" font-size="13.5" fill="#fff" text-anchor="start" font-weight="bold" textLength="28.5" lengthAdjust="spacingAndGlyphs" >1150</text>
<text x="1566.8" y="281.6" font-size="13.5" fill="#fff" text-anchor="start" font-weight="bold" textLength="21.2" lengthAdjust="spacingAndGlyphs" >997</text>
<text x="1566.8" y="348.6" font-size="13.5" fill="#fff" text-anchor="start" font-weight="bold" textLength="21.2" lengthAdjust="spacingAndGlyphs" >775</text>
<text x="1566.8" y="391.4" font-size="13.5" fill="#fff" text-anchor="start" font-weight="bold" textLength="21.2" lengthAdjust="spacingAndGlyphs" >630</text>
<g clip-path="url(#cr)">
<rect x="3" y="585.5" width="1757" height="53" fill="#0f0b18"/>
<line x1="3" y1="585.5" x2="1760" y2="585.5" stroke="#b2b5be" stroke-width="1" stroke-dasharray="5 6" shape-rendering="crispEdges"/>
<line x1="3" y1="611.5" x2="1760" y2="611.5" stroke="#787b86" stroke-width="1" stroke-dasharray="5 6" shape-rendering="crispEdges"/>
<line x1="3" y1="638.5" x2="1760" y2="638.5" stroke="#b2b5be" stroke-width="1" stroke-dasharray="5 6" shape-rendering="crispEdges"/>
<polyline points="3.0,620.6 7.4,611.5 12.4,626.8 17.3,628.1 23.5,618.2 27.2,595.9 30.2,592.1 33.9,607.0 39.6,579.8 42.6,574.8 45.8,581.0 50.8,572.3 55.7,564.9 59.4,563.7 63.2,582.2 68.1,593.4 74.3,599.6 80.5,599.6 84.2,608.2 86.7,603.3 90.4,618.2 92.9,613.2 96.6,626.8 100.3,628.1 104.0,623.8 109.0,623.1 112.7,602.1 118.4,594.6 125.1,630.5 128.3,619.9 132.5,623.1 138.7,619.4 143.6,615.7 146.6,621.4 149.6,614.4 153.0,621.9 158.5,619.9 162.2,619.9 168.4,577.3 173.4,581.0 178.3,571.1 181.3,590.2 184.5,589.7 188.2,583.5 195.6,573.6 200.1,567.4 205.5,582.2 211.7,587.2 216.2,600.8 219.2,600.8 224.1,581.0 229.1,579.8 232.3,576.8 234.8,592.1 237.7,583.5 241.5,603.3 246.4,604.0 251.4,599.1 253.8,600.1 257.1,589.7 260.0,603.3 263.0,595.9 266.2,594.1 269.9,584.7 273.7,581.7 276.1,584.2 279.1,577.3 284.8,612.0 287.8,611.5 291.0,623.1 295.9,604.5 300.9,592.1 304.6,590.9 309.6,582.2 313.3,581.0 319.5,566.1 324.4,563.7 331.8,562.4 334.8,575.3 342.2,562.9 345.5,584.7 347.9,588.4 351.2,588.4 353.6,602.1 360.3,586.0 364.0,589.7 369.7,619.9 372.7,621.9 375.9,607.0 378.4,610.7 382.6,596.6 385.1,599.1 391.3,589.7 395.0,588.4 401.2,579.3 404.9,578.5 408.6,573.6 412.3,571.8 416.8,566.9 420.5,585.2 423.5,585.2 427.2,581.0 430.2,584.7 433.4,578.5 435.9,577.3 440.8,571.8 445.0,570.4 449.4,563.7 452.4,566.9 454.9,565.4 457.8,573.6 461.1,571.1 464.0,589.7 467.2,586.0 471.0,585.2 474.2,577.3 477.1,574.3 480.1,557.5 483.3,571.1 487.1,568.6 490.3,568.6 493.2,573.6 495.7,599.1 498.9,588.4 501.9,607.5 504.9,600.1 508.1,604.5 511.8,630.5 514.8,620.6 518.0,620.6 521.0,626.8 524.2,618.9 527.2,626.8 530.4,614.9 533.6,616.4 537.1,609.5 540.3,609.0 546.0,595.9 549.0,600.8 552.2,595.9 556.4,597.6 558.9,599.1 562.1,603.3 565.6,601.6 568.3,602.1 571.3,599.6 574.2,594.6 578.2,602.1 581.2,603.3 584.1,597.6 586.9,624.3 589.8,622.4 593.0,633.0 596.0,632.3 599.7,628.1 603.4,627.3 605.9,637.2 608.9,616.4 612.1,635.5 615.1,629.8 618.3,634.2 621.3,628.1 625.2,611.5 628.2,613.2 631.2,612.0 633.7,612.5 636.9,621.9 641.8,615.7 646.8,615.7 649.3,618.9 653.0,624.8 656.2,618.9 659.2,626.8 662.9,635.5 665.9,624.3 669.1,602.1 672.0,589.7 674.8,580.3 677.7,582.7 681.0,581.0 683.9,590.9 687.6,606.5 690.6,606.5 693.8,624.8 697.6,626.3 703.0,631.3 706.2,628.1 709.9,618.9 712.9,627.3 716.1,626.8 719.1,617.4 722.3,624.3 725.3,616.9 729.0,606.5 731.7,622.4 734.7,618.2 740.9,606.5 744.1,594.1 747.1,602.1 750.8,607.0 754.0,616.9 757.0,621.4 760.0,603.3 763.2,594.6 766.4,603.3 771.8,601.6 775.6,598.3 779.3,605.8 781.8,606.5 785.0,628.8 787.9,624.8 791.2,624.3 794.6,605.8 797.9,606.5 800.8,614.4 804.0,607.5 807.0,602.1 810.2,591.7 813.2,605.8 816.4,625.6 820.1,632.3 825.8,634.2 828.8,616.4 831.8,622.4 835.0,624.8 838.7,632.3 841.7,634.7 848.1,643.7 851.1,629.3 854.1,615.7 857.3,610.7 861.0,603.3 864.0,598.3 867.2,585.2 870.9,584.2 875.9,579.8 879.6,586.0 883.0,579.8 886.2,585.2 889.2,616.9 892.4,622.4 895.4,619.4 898.6,621.9 904.8,617.4 907.7,627.3 911.0,628.8 914.2,615.7 917.1,618.9 920.9,614.4 924.1,607.0 927.1,595.9 930.3,591.7 933.2,613.2 936.2,603.3 939.4,607.5 941.9,625.6 945.6,638.0 948.8,641.7 951.8,654.1 955.0,657.0 958.0,647.9 961.0,650.3 964.2,642.2 967.9,649.1 970.9,639.2 974.1,638.7 977.1,629.3 980.3,616.9 983.3,609.5 990.2,604.5 993.2,611.5 996.4,606.5 999.4,606.5 1002.6,600.8 1005.6,600.1 1008.8,597.6 1011.7,596.6 1015.0,592.1 1017.9,582.7 1021.2,588.4 1024.1,595.9 1027.4,587.7 1031.1,588.4 1036.8,588.4 1039.7,618.9 1043.0,625.6 1046.4,615.7 1049.1,616.9 1055.8,594.6 1058.8,603.3 1062.0,611.5 1065.0,613.2 1068.2,598.3 1071.2,608.2 1074.9,626.3 1078.1,627.3 1081.1,610.7 1083.8,628.1 1086.8,621.9 1090.0,619.4 1093.5,619.4 1097.2,617.4 1100.4,626.8 1103.4,628.1 1106.6,617.4 1109.6,617.4 1112.3,622.4 1115.3,618.9 1119.0,623.8 1122.0,626.8 1125.2,621.4 1127.6,621.4 1130.6,626.8 1133.8,636.7 1137.1,642.9 1140.0,635.5 1143.7,626.8 1146.7,626.8 1149.9,616.9 1152.9,600.1 1156.1,609.5 1159.1,612.5 1162.3,624.3 1165.3,629.3 1168.5,631.3 1171.7,639.7 1174.7,619.9 1177.7,623.1 1180.9,612.5 1184.6,621.4 1187.6,618.2 1190.8,605.0 1194.0,604.0 1197.0,597.1 1200.0,600.8 1203.2,599.6 1206.4,603.3 1209.4,605.0 1212.6,606.5 1215.6,618.9 1218.8,611.5 1221.8,618.2 1225.0,626.3 1228.7,619.9 1231.7,599.6 1234.9,588.4 1237.9,605.0 1240.8,607.5 1244.0,615.7 1247.0,621.4 1250.2,620.6 1256.4,620.6 1259.4,625.6 1262.6,629.3 1266.3,634.7 1269.3,636.2 1272.5,633.8 1275.7,639.7 1278.7,634.7 1281.7,601.6 1284.9,597.1 1287.9,598.3 1291.1,591.7 1294.8,587.7 1297.8,609.0 1300.5,605.8 1303.5,628.8 1306.4,632.3 1309.7,627.3 1313.4,624.8 1316.4,604.0 1319.6,605.8 1323.0,612.5 1326.2,610.0 1329.2,614.4 1332.4,609.0 1335.4,611.5 1338.6,610.0 1341.8,623.1 1344.8,600.8 1347.7,596.6 1351.0,602.1 1354.2,609.0 1357.1,605.0 1360.9,606.5 1364.1,604.5 1367.1,603.3 1370.3,604.5 1373.2,628.1 1376.5,633.0 1379.9,634.7 1383.2,620.6 1385.6,629.3 1388.6,630.5 1391.8,620.6 1395.0,618.2 1398.0,616.4 1404.9,601.6 1407.9,617.4 1411.1,619.9 1414.1,618.2 1417.1,621.4 1424.0,624.3 1427.0,602.5 1430.2,610.7 1433.2,616.9 1435.9,625.6 1438.9,618.9 1441.8,629.3 1445.1,622.4 1448.8,620.6 1451.7,603.3 1455.0,599.6 1457.9,601.6 1461.2,622.4 1464.1,607.5 1467.8,607.0 1471.1,617.4 1474.0,604.5 1476.8,604.5 1479.7,597.6 1483.4,602.1 1486.4,605.8 1489.6,604.0 1492.6,600.8 1495.8,606.5 1498.8,597.6 1502.0,613.2 1505.0,603.3 1508.2,601.6 1511.9,599.1 1514.9,599.6 1518.1,612.0 1521.1,605.8 1523.8,605.8 1526.8,626.8 1530.5,629.8 1533.5,630.5 1536.7,630.5 1539.7,628.8 1542.9,642.2 1545.9,642.2 1549.1,645.4 1552.0,645.4 1555.8,653.6 1559.0,639.7" fill="none" stroke="#7e57c2" stroke-width="1.1" stroke-linejoin="round" stroke-linecap="round" />
</g>
<g clip-path="url(#cd)">
<line x1="1564" y1="710.5" x2="1760" y2="710.5" stroke="#50535e" stroke-width="1" stroke-dasharray="5 6" shape-rendering="crispEdges"/>
<path d="M23 709h2v1h-2zM26 708h2v2h-2zM29 706h2v4h-2zM32 705h2v5h-2zM35 704h2v6h-2zM38 702h2v8h-2zM42 700h2v10h-2zM45 698h2v12h-2zM48 696h2v14h-2zM51 694h2v16h-2zM54 692h2v18h-2zM57 691h2v19h-2zM164 709h2v1h-2zM167 705h2v5h-2zM171 703h2v7h-2zM174 701h2v9h-2zM177 700h2v10h-2zM193 701h2v9h-2zM196 700h2v10h-2zM199 700h2v10h-2zM202 699h2v11h-2zM221 710h2v1h-2zM224 710h2v1h-2zM227 709h2v1h-2zM230 709h2v1h-2zM271 710h2v1h-2zM274 708h2v2h-2zM277 707h2v3h-2zM306 709h2v1h-2zM309 707h2v3h-2zM312 705h2v5h-2zM315 702h2v8h-2zM318 699h2v11h-2zM322 696h2v14h-2zM325 695h2v15h-2zM328 694h2v16h-2zM340 697h2v13h-2zM394 710h2v1h-2zM397 708h2v2h-2zM400 705h2v5h-2zM403 703h2v7h-2zM406 702h2v8h-2zM410 700h2v10h-2zM413 699h2v11h-2zM416 698h2v12h-2zM441 706h2v4h-2zM444 705h2v5h-2zM447 704h2v6h-2zM450 704h2v6h-2zM454 704h2v6h-2zM476 709h2v1h-2zM479 698h2v12h-2zM482 694h2v16h-2zM485 691h2v19h-2zM488 690h2v20h-2zM548 710h2v1h-2zM551 705h2v5h-2zM554 703h2v7h-2zM557 703h2v7h-2zM570 706h2v4h-2zM573 706h2v4h-2zM642 710h2v1h-2zM645 709h2v1h-2zM655 710h2v1h-2zM667 709h2v1h-2zM671 703h2v7h-2zM674 696h2v14h-2zM677 690h2v20h-2zM680 686h2v24h-2zM740 708h2v2h-2zM743 703h2v7h-2zM746 702h2v8h-2zM759 706h2v4h-2zM762 703h2v7h-2zM765 702h2v8h-2zM768 702h2v8h-2zM771 702h2v8h-2zM774 701h2v9h-2zM806 709h2v1h-2zM809 706h2v4h-2zM812 706h2v4h-2zM859 705h2v5h-2zM862 701h2v9h-2zM866 695h2v15h-2zM869 690h2v20h-2zM872 687h2v23h-2zM875 684h2v26h-2zM878 683h2v27h-2zM884 686h2v24h-2zM925 709h2v1h-2zM928 705h2v5h-2zM935 706h2v4h-2zM982 709h2v1h-2zM985 698h2v12h-2zM988 690h2v20h-2zM991 688h2v22h-2zM995 686h2v24h-2zM998 684h2v26h-2zM1001 682h2v28h-2zM1004 681h2v29h-2zM1007 680h2v30h-2zM1013 681h2v29h-2zM1017 679h2v31h-2zM1054 707h2v3h-2zM1057 706h2v4h-2zM1067 707h2v3h-2zM1152 707h2v3h-2zM1155 703h2v7h-2zM1158 702h2v8h-2zM1180 710h2v1h-2zM1183 710h2v1h-2zM1186 709h2v1h-2zM1190 705h2v5h-2zM1193 701h2v9h-2zM1196 697h2v13h-2zM1199 694h2v16h-2zM1202 694h2v16h-2zM1230 706h2v4h-2zM1234 700h2v10h-2zM1237 700h2v10h-2zM1284 707h2v3h-2zM1287 703h2v7h-2zM1290 698h2v12h-2zM1293 695h2v15h-2zM1318 709h2v1h-2zM1322 709h2v1h-2zM1325 709h2v1h-2zM1328 708h2v2h-2zM1331 708h2v2h-2zM1334 708h2v2h-2zM1337 708h2v2h-2zM1344 707h2v3h-2zM1347 702h2v8h-2zM1350 702h2v8h-2zM1403 709h2v1h-2zM1425 708h2v2h-2zM1429 708h2v2h-2zM1451 710h2v1h-2zM1454 705h2v5h-2zM1457 704h2v6h-2zM1463 706h2v4h-2zM1473 707h2v3h-2zM1476 705h2v5h-2zM1479 703h2v7h-2zM1488 703h2v7h-2zM1498 705h2v5h-2zM1507 706h2v4h-2zM1510 706h2v4h-2z" fill="#26a69a" shape-rendering="crispEdges"/>
<path d="M60 693h2v17h-2zM64 696h2v14h-2zM67 699h2v11h-2zM70 701h2v9h-2zM73 705h2v5h-2zM76 709h2v1h-2zM79 710h2v1h-2zM180 700h2v10h-2zM183 701h2v9h-2zM186 701h2v9h-2zM189 702h2v8h-2zM205 701h2v9h-2zM208 703h2v7h-2zM211 706h2v4h-2zM215 708h2v2h-2zM233 709h2v1h-2zM237 709h2v1h-2zM281 708h2v2h-2zM331 696h2v14h-2zM334 697h2v13h-2zM337 698h2v12h-2zM344 697h2v13h-2zM347 701h2v9h-2zM350 705h2v5h-2zM353 709h2v1h-2zM419 700h2v10h-2zM422 703h2v7h-2zM425 705h2v5h-2zM428 706h2v4h-2zM432 706h2v4h-2zM435 707h2v3h-2zM438 707h2v3h-2zM457 705h2v5h-2zM460 707h2v3h-2zM463 709h2v1h-2zM491 692h2v18h-2zM494 697h2v13h-2zM498 705h2v5h-2zM561 704h2v6h-2zM564 706h2v4h-2zM567 706h2v4h-2zM576 707h2v3h-2zM579 709h2v1h-2zM583 710h2v1h-2zM649 709h2v1h-2zM652 710h2v1h-2zM683 687h2v23h-2zM686 693h2v17h-2zM689 696h2v14h-2zM693 705h2v5h-2zM749 703h2v7h-2zM752 705h2v5h-2zM756 708h2v2h-2zM778 703h2v7h-2zM781 706h2v4h-2zM881 687h2v23h-2zM888 696h2v14h-2zM891 705h2v5h-2zM932 706h2v4h-2zM938 707h2v3h-2zM1010 681h2v29h-2zM1020 679h2v31h-2zM1023 681h2v29h-2zM1026 682h2v28h-2zM1029 684h2v26h-2zM1032 687h2v23h-2zM1035 688h2v22h-2zM1039 698h2v12h-2zM1042 705h2v5h-2zM1045 709h2v1h-2zM1061 708h2v2h-2zM1070 708h2v2h-2zM1161 705h2v5h-2zM1164 708h2v2h-2zM1205 695h2v15h-2zM1208 696h2v14h-2zM1212 698h2v12h-2zM1215 701h2v9h-2zM1218 704h2v6h-2zM1221 706h2v4h-2zM1240 702h2v8h-2zM1243 706h2v4h-2zM1246 710h2v1h-2zM1296 697h2v13h-2zM1300 699h2v11h-2zM1303 708h2v2h-2zM1340 709h2v1h-2zM1353 703h2v7h-2zM1356 703h2v7h-2zM1359 704h2v6h-2zM1363 704h2v6h-2zM1366 705h2v5h-2zM1369 706h2v4h-2zM1407 709h2v1h-2zM1410 710h2v1h-2zM1413 710h2v1h-2zM1432 708h2v2h-2zM1435 710h2v1h-2zM1460 707h2v3h-2zM1466 707h2v3h-2zM1469 708h2v2h-2zM1482 703h2v7h-2zM1485 705h2v5h-2zM1491 704h2v6h-2zM1495 705h2v5h-2zM1501 707h2v3h-2zM1504 707h2v3h-2zM1513 706h2v4h-2zM1517 708h2v2h-2zM1520 708h2v2h-2zM1523 710h2v1h-2z" fill="#b2dfdb" shape-rendering="crispEdges"/>
<path d="M82 710h2v2h-2zM86 710h2v3h-2zM89 710h2v5h-2zM92 710h2v6h-2zM95 710h2v8h-2zM98 710h2v9h-2zM101 710h2v10h-2zM123 710h2v4h-2zM127 710h2v5h-2zM130 710h2v6h-2zM133 710h2v6h-2zM218 710h2v1h-2zM240 710h2v1h-2zM243 710h2v2h-2zM246 710h2v3h-2zM255 710h2v3h-2zM259 710h2v3h-2zM284 710h2v1h-2zM287 710h2v2h-2zM290 710h2v4h-2zM293 710h2v6h-2zM356 710h2v1h-2zM362 710h2v1h-2zM366 710h2v3h-2zM369 710h2v8h-2zM372 710h2v12h-2zM375 710h2v14h-2zM466 710h2v2h-2zM469 710h2v3h-2zM501 710h2v1h-2zM504 710h2v4h-2zM507 710h2v8h-2zM510 710h2v22h-2zM513 710h2v28h-2zM517 710h2v31h-2zM520 710h2v35h-2zM523 710h2v37h-2zM586 710h2v5h-2zM589 710h2v9h-2zM592 710h2v13h-2zM595 710h2v17h-2zM598 710h2v18h-2zM608 710h2v19h-2zM611 710h2v19h-2zM614 710h2v20h-2zM617 710h2v21h-2zM658 710h2v1h-2zM661 710h2v2h-2zM664 710h2v4h-2zM696 710h2v2h-2zM699 710h2v6h-2zM702 710h2v11h-2zM705 710h2v12h-2zM711 710h2v11h-2zM715 710h2v11h-2zM730 710h2v3h-2zM734 710h2v3h-2zM784 710h2v1h-2zM787 710h2v5h-2zM790 710h2v6h-2zM815 710h2v2h-2zM818 710h2v7h-2zM822 710h2v11h-2zM825 710h2v14h-2zM834 710h2v11h-2zM837 710h2v13h-2zM840 710h2v14h-2zM844 710h2v15h-2zM847 710h2v16h-2zM894 710h2v1h-2zM897 710h2v4h-2zM900 710h2v6h-2zM903 710h2v8h-2zM906 710h2v10h-2zM910 710h2v13h-2zM941 710h2v3h-2zM944 710h2v13h-2zM947 710h2v20h-2zM951 710h2v33h-2zM954 710h2v43h-2zM957 710h2v48h-2zM960 710h2v51h-2zM1048 710h2v2h-2zM1064 710h2v1h-2zM1073 710h2v5h-2zM1076 710h2v10h-2zM1079 710h2v12h-2zM1083 710h2v14h-2zM1086 710h2v15h-2zM1098 710h2v13h-2zM1101 710h2v14h-2zM1130 710h2v5h-2zM1133 710h2v9h-2zM1136 710h2v12h-2zM1168 710h2v2h-2zM1171 710h2v7h-2zM1224 710h2v1h-2zM1227 710h2v1h-2zM1249 710h2v3h-2zM1252 710h2v5h-2zM1256 710h2v6h-2zM1259 710h2v7h-2zM1262 710h2v9h-2zM1265 710h2v10h-2zM1268 710h2v11h-2zM1274 710h2v12h-2zM1306 710h2v1h-2zM1309 710h2v7h-2zM1312 710h2v7h-2zM1372 710h2v2h-2zM1375 710h2v7h-2zM1378 710h2v10h-2zM1385 710h2v11h-2zM1388 710h2v11h-2zM1416 710h2v1h-2zM1419 710h2v1h-2zM1438 710h2v1h-2zM1441 710h2v2h-2zM1447 710h2v2h-2zM1526 710h2v4h-2zM1529 710h2v7h-2zM1532 710h2v8h-2zM1535 710h2v8h-2zM1539 710h2v9h-2zM1542 710h2v11h-2zM1545 710h2v12h-2zM1548 710h2v12h-2zM1558 710h2v12h-2z" fill="#ff5252" shape-rendering="crispEdges"/>
<path d="M4 710h2v2h-2zM7 710h2v2h-2zM10 710h2v2h-2zM13 710h2v1h-2zM16 710h2v1h-2zM20 710h2v1h-2zM105 710h2v9h-2zM108 710h2v8h-2zM111 710h2v6h-2zM114 710h2v4h-2zM117 710h2v3h-2zM120 710h2v2h-2zM136 710h2v6h-2zM139 710h2v4h-2zM142 710h2v4h-2zM145 710h2v3h-2zM149 710h2v3h-2zM152 710h2v3h-2zM155 710h2v3h-2zM158 710h2v3h-2zM161 710h2v2h-2zM249 710h2v3h-2zM252 710h2v3h-2zM262 710h2v3h-2zM265 710h2v2h-2zM268 710h2v1h-2zM296 710h2v4h-2zM300 710h2v3h-2zM303 710h2v1h-2zM359 710h2v1h-2zM378 710h2v13h-2zM381 710h2v9h-2zM384 710h2v6h-2zM388 710h2v5h-2zM391 710h2v2h-2zM472 710h2v3h-2zM526 710h2v36h-2zM529 710h2v32h-2zM532 710h2v28h-2zM535 710h2v23h-2zM539 710h2v17h-2zM542 710h2v9h-2zM545 710h2v3h-2zM601 710h2v17h-2zM605 710h2v17h-2zM620 710h2v18h-2zM623 710h2v13h-2zM627 710h2v8h-2zM630 710h2v4h-2zM633 710h2v2h-2zM636 710h2v1h-2zM639 710h2v1h-2zM708 710h2v9h-2zM718 710h2v10h-2zM721 710h2v8h-2zM724 710h2v7h-2zM727 710h2v2h-2zM737 710h2v2h-2zM793 710h2v3h-2zM796 710h2v3h-2zM800 710h2v2h-2zM803 710h2v1h-2zM828 710h2v13h-2zM831 710h2v11h-2zM850 710h2v14h-2zM853 710h2v9h-2zM856 710h2v1h-2zM913 710h2v11h-2zM916 710h2v9h-2zM919 710h2v6h-2zM922 710h2v2h-2zM963 710h2v50h-2zM966 710h2v48h-2zM969 710h2v43h-2zM973 710h2v37h-2zM976 710h2v27h-2zM979 710h2v14h-2zM1051 710h2v1h-2zM1089 710h2v14h-2zM1092 710h2v13h-2zM1095 710h2v12h-2zM1105 710h2v10h-2zM1108 710h2v9h-2zM1111 710h2v8h-2zM1114 710h2v7h-2zM1117 710h2v6h-2zM1120 710h2v6h-2zM1123 710h2v5h-2zM1127 710h2v4h-2zM1139 710h2v12h-2zM1142 710h2v9h-2zM1146 710h2v7h-2zM1149 710h2v4h-2zM1174 710h2v4h-2zM1177 710h2v3h-2zM1271 710h2v11h-2zM1278 710h2v10h-2zM1281 710h2v3h-2zM1315 710h2v2h-2zM1381 710h2v10h-2zM1391 710h2v8h-2zM1394 710h2v8h-2zM1397 710h2v6h-2zM1400 710h2v2h-2zM1422 710h2v1h-2zM1444 710h2v2h-2zM1551 710h2v12h-2zM1554 710h2v12h-2z" fill="#ffcdd2" shape-rendering="crispEdges"/>
<polyline points="2.5,723.7 4.5,723.5 6.6,723.3 8.7,722.9 10.7,722.6 12.8,722.3 14.9,722.0 17.3,721.6 19.8,721.2 22.3,720.7 24.8,720.0 27.2,718.5 29.7,716.6 32.2,714.5 34.7,712.4 37.1,710.0 39.6,707.1 42.1,703.3 44.6,698.9 47.1,694.7 49.1,690.8 51.2,687.1 53.2,683.6 55.3,680.3 57.4,677.2 59.4,674.9 61.9,673.0 64.4,672.4 66.9,672.8 69.3,673.6 71.8,674.9 74.3,676.7 76.8,678.9 79.2,681.1 81.7,683.1 84.2,685.1 86.7,687.3 89.2,689.7 91.6,692.3 94.1,694.7 96.6,696.9 99.1,699.0 101.5,700.9 104.0,702.7 106.5,704.4 109.0,705.1 111.4,704.6 113.9,703.4 116.4,702.2 118.9,701.7 121.3,703.2 123.8,705.9 126.3,707.5 128.8,709.3 131.3,710.8 133.7,711.9 136.2,712.7 138.7,713.3 141.2,713.6 143.6,713.8 146.1,713.9 148.6,714.0 151.1,714.3 153.5,714.6 156.0,714.9 158.5,715.0 161.0,715.3 163.4,714.0 165.9,710.7 168.4,706.2 170.9,702.1 173.4,699.1 175.8,696.5 178.3,694.2 180.8,692.5 183.3,691.2 185.7,689.8 188.2,688.1 190.7,686.3 193.2,684.3 195.6,681.9 198.1,679.4 200.6,677.4 203.1,675.9 205.5,675.4 208.0,675.6 210.5,676.2 213.0,676.9 215.5,678.3 217.9,679.9 220.4,680.8 222.9,681.6 225.4,681.8 227.8,681.2 230.3,680.1 232.8,679.1 235.3,678.6 237.3,678.8 239.4,679.3 241.5,680.0 243.5,680.8 245.6,681.6 247.6,682.3 249.7,683.0 251.8,683.8 253.8,684.6 255.9,685.3 258.0,685.8 260.0,686.1 262.1,685.9 264.2,685.4 266.2,684.7 268.3,684.0 270.3,683.3 272.4,682.8 274.9,682.1 277.4,681.6 279.8,681.8 282.3,683.2 284.8,685.2 287.3,687.3 289.7,689.4 292.2,691.5 294.7,692.7 297.2,692.8 299.7,692.1 302.1,691.0 304.6,689.7 307.1,688.1 309.6,686.1 311.6,683.5 313.7,680.5 315.8,677.4 318.2,673.0 320.7,667.5 322.8,662.2 324.8,656.0 326.9,650.1 329.1,648.2 331.3,646.1 333.5,643.9 335.7,641.7 337.9,639.7 340.1,637.9 342.3,636.5 344.5,635.6 346.7,635.3 348.8,635.8 351.0,637.3 353.1,639.4 355.2,642.0 357.3,644.8 359.4,647.6 361.6,650.1 364.0,654.5 366.5,659.2 369.0,663.7 371.5,667.5 373.6,670.5 375.8,673.0 378.0,675.0 380.1,676.1 382.3,676.4 384.5,675.8 386.6,674.7 388.8,673.7 391.3,672.1 393.8,670.2 396.2,668.7 398.7,668.9 401.2,667.0 403.4,665.4 405.6,663.4 407.8,661.0 410.0,658.4 412.2,655.7 414.4,652.9 416.6,650.1 418.8,647.5 421.0,645.2 423.0,644.6 425.0,644.0 427.0,643.4 429.1,642.7 431.1,642.1 433.1,641.4 435.1,640.7 437.1,640.1 439.1,639.4 441.2,638.7 443.2,638.0 445.2,637.3 447.2,636.7 449.2,636.0 451.2,635.3 453.2,634.7 455.3,634.1 457.3,633.5 459.3,632.9 461.3,632.3 463.3,631.8 465.3,631.2 467.4,630.7 469.4,630.3 471.4,629.8 473.4,629.5 475.4,629.1 477.4,628.8 479.5,628.5 481.5,628.3 483.5,628.1 485.5,628.0 487.5,627.9 489.5,627.9 491.7,628.2 493.9,629.3 496.1,630.9 498.3,632.9 500.5,635.2 502.7,637.8 504.9,640.3 507.1,642.9 509.3,645.2 512.0,652.4 514.6,660.2 517.3,667.5 519.5,676.5 521.7,684.8 524.2,693.6 526.7,700.9 529.0,704.1 531.3,706.1 533.6,707.1 535.8,706.8 538.1,705.4 540.3,703.4 542.4,700.5 544.4,697.0 546.5,693.5 548.6,690.0 550.6,686.5 552.7,683.6 554.7,681.4 556.8,679.7 558.9,678.6 561.3,678.3 563.8,678.6 566.3,678.6 568.8,677.8 571.3,676.7 573.7,676.1 576.2,676.1 578.7,676.2 581.2,676.9 583.6,678.6 586.1,683.0 588.6,688.8 591.1,694.7 593.5,700.3 596.0,705.8 598.5,710.8 601.0,714.9 603.4,718.3 605.9,722.0 608.4,726.1 610.9,730.4 613.4,734.3 616.0,738.4 618.6,742.2 621.3,744.2 623.6,743.4 625.9,740.7 628.2,738.1 630.7,736.0 633.2,733.9 635.6,732.4 638.1,731.5 640.6,731.0 643.1,730.6 645.5,730.2 648.0,729.9 650.5,729.9 653.0,730.1 655.5,730.6 657.9,731.4 660.0,733.0 662.1,734.8 664.1,735.6 666.6,733.9 669.1,729.4 671.6,720.8 674.0,710.8 676.5,701.5 679.0,693.5 681.5,688.1 683.9,685.3 686.4,685.1 688.9,686.1 691.4,688.5 693.4,693.1 695.5,699.1 697.6,704.6 700.0,708.8 702.5,712.5 705.0,715.8 707.5,718.9 709.9,721.7 712.4,723.9 714.9,725.5 717.4,726.5 719.8,726.9 722.3,726.4 724.8,725.2 727.3,724.4 729.7,724.8 732.2,725.6 734.7,725.7 736.8,724.6 738.8,722.9 740.9,720.7 743.0,717.9 745.0,714.6 747.1,712.1 749.6,710.9 752.0,710.4 754.5,709.6 757.0,708.1 759.5,706.4 761.9,704.6 764.4,702.9 766.9,701.2 769.4,699.7 771.8,698.4 774.3,697.3 776.8,696.7 778.9,696.3 780.9,696.3 783.0,697.7 785.1,701.7 787.1,707.1 789.2,710.8 791.7,711.3 794.1,710.1 796.6,709.1 798.8,709.0 800.9,709.1 803.1,709.0 805.3,708.3 807.3,705.8 809.4,702.4 811.5,700.2 813.9,699.5 816.4,702.1 818.5,707.5 820.6,714.7 822.6,720.7 825.1,725.4 827.6,728.2 829.6,729.0 831.7,729.3 833.8,730.6 836.2,733.7 838.7,737.8 841.2,741.8 843.3,745.5 845.3,749.0 847.4,751.7 851.1,753.7 853.2,751.9 855.2,749.1 857.3,745.5 859.3,741.3 861.4,736.3 863.5,730.6 865.5,724.0 867.6,716.7 869.7,709.6 871.7,702.4 873.8,695.4 875.9,689.8 879.6,682.3 882.5,676.5 885.4,673.7 887.8,677.4 890.1,683.8 892.4,689.8 894.9,694.0 897.3,697.7 899.8,700.9 902.3,703.6 904.8,705.9 907.2,708.3 909.7,711.5 912.2,714.8 914.7,717.0 917.1,717.7 919.6,717.2 922.1,715.8 924.6,712.6 927.1,708.4 929.5,705.1 931.7,703.6 933.9,702.5 936.0,702.1 938.2,702.6 940.7,706.2 943.2,713.3 945.6,724.8 948.1,739.3 950.6,757.2 953.1,774.0 956.8,790.1 959.2,805.6 961.7,824.6 964.2,838.4 966.3,841.3 968.4,843.3 970.6,844.3 972.7,844.3 974.8,843.3 976.9,841.3 979.1,838.4 981.4,829.0 983.8,815.5 986.1,801.4 988.5,790.1 991.1,781.0 993.8,775.0 996.4,769.0 998.9,761.9 1001.3,754.8 1003.8,748.0 1006.3,741.5 1008.8,735.4 1011.3,729.4 1013.3,723.4 1015.4,717.6 1017.4,712.1 1019.5,706.7 1021.6,701.7 1023.6,697.2 1026.1,693.3 1028.6,690.0 1031.1,687.3 1033.8,683.8 1036.5,682.8 1039.4,687.3 1042.2,693.5 1044.3,697.1 1046.3,700.4 1048.4,702.1 1050.9,700.9 1053.4,698.0 1055.8,696.0 1058.3,696.0 1060.8,696.8 1063.3,697.2 1065.3,696.0 1067.4,694.4 1069.5,694.2 1071.5,696.6 1073.6,700.5 1075.6,704.6 1077.7,708.7 1079.8,713.1 1081.8,717.0 1083.9,720.4 1086.0,723.3 1088.0,725.7 1090.5,727.1 1093.0,727.9 1095.5,729.4 1097.9,732.5 1100.4,736.3 1102.9,738.8 1105.4,739.0 1107.8,738.0 1110.3,737.3 1112.8,737.5 1115.3,738.1 1117.7,738.8 1119.8,739.8 1121.9,741.0 1123.9,741.8 1126.0,741.6 1128.1,740.9 1130.1,741.3 1132.6,744.7 1135.1,749.2 1137.6,753.4 1140.0,756.6 1142.1,757.5 1144.2,757.4 1146.2,756.1 1148.3,752.8 1150.3,748.2 1152.4,744.2 1154.7,741.2 1157.0,738.7 1159.3,737.6 1162.1,739.3 1164.8,743.0 1167.3,746.2 1169.7,749.7 1172.2,752.2 1174.3,752.8 1176.4,752.3 1178.4,751.2 1180.9,749.5 1183.4,747.1 1185.8,744.2 1187.9,740.9 1190.0,737.2 1192.0,733.1 1194.5,728.5 1197.0,723.6 1199.5,719.5 1201.9,716.5 1204.4,714.2 1206.9,712.5 1209.4,711.4 1211.8,710.9 1214.3,710.8 1216.8,711.2 1219.3,712.0 1221.8,713.3 1224.2,715.8 1226.7,718.9 1229.2,720.0 1231.7,715.6 1234.1,709.6 1236.2,706.7 1238.3,704.3 1240.3,703.4 1242.4,704.9 1244.5,708.0 1246.5,710.8 1249.0,712.6 1251.5,714.1 1253.9,715.8 1256.4,717.6 1258.9,719.7 1261.4,722.0 1263.9,724.8 1266.3,727.8 1268.8,730.6 1271.3,734.0 1273.8,736.8 1276.2,739.9 1278.7,740.5 1280.8,737.3 1282.8,732.2 1284.9,726.9 1287.0,721.7 1289.0,716.4 1291.1,712.1 1293.6,709.0 1296.0,707.1 1298.5,706.6 1301.0,709.6 1303.5,714.5 1306.0,719.7 1308.4,724.4 1310.9,727.3 1313.4,728.2 1315.9,725.4 1318.3,722.0 1320.0,719.5 1322.5,718.9 1325.0,718.2 1327.4,717.6 1329.9,717.0 1332.1,716.4 1334.2,715.7 1336.4,715.2 1338.6,715.0 1342.3,717.0 1344.8,713.8 1347.2,709.6 1349.7,707.5 1352.2,705.6 1354.7,704.1 1357.1,703.2 1359.6,702.7 1362.1,702.1 1364.6,701.2 1367.1,700.4 1369.5,700.4 1373.2,707.1 1375.7,711.4 1378.2,715.8 1380.3,718.5 1382.3,721.0 1384.4,723.2 1386.5,725.0 1388.5,726.5 1390.6,727.4 1393.1,727.8 1395.5,727.7 1398.0,726.9 1400.1,724.8 1402.1,721.9 1404.2,720.0 1406.7,719.9 1409.2,720.7 1411.6,721.5 1414.1,721.8 1416.6,722.1 1419.1,722.5 1421.5,723.5 1424.0,723.9 1426.5,721.8 1429.0,719.5 1431.4,718.9 1433.9,719.5 1436.4,720.9 1438.9,722.9 1441.3,724.4 1443.8,725.4 1446.3,726.0 1448.8,725.7 1450.8,723.7 1452.9,720.7 1455.0,718.2 1458.7,715.0 1462.4,717.0 1464.9,715.6 1467.4,714.0 1469.8,714.4 1472.3,714.5 1474.4,713.3 1476.4,711.4 1478.5,709.6 1480.6,708.0 1482.6,706.4 1484.7,705.1 1486.7,704.1 1488.8,703.4 1490.9,702.6 1493.4,701.8 1495.8,700.9 1498.3,700.4 1500.4,700.5 1502.4,701.0 1504.5,700.9 1506.7,700.2 1508.8,699.0 1511.0,697.9 1513.2,697.2 1515.6,697.5 1518.1,698.4 1520.2,698.5 1522.2,698.6 1524.3,699.7 1526.8,704.3 1529.3,709.6 1531.3,711.9 1533.4,713.7 1535.5,715.8 1537.9,718.2 1540.4,720.7 1542.9,723.2 1545.4,725.8 1547.8,728.3 1550.3,730.6 1552.8,733.4 1555.3,735.6 1559.0,738.1" fill="none" stroke="#2962ff" stroke-width="1.05" stroke-linejoin="round" stroke-linecap="round" />
<polyline points="2.5,720.0 4.5,720.2 6.6,720.4 8.7,720.8 10.7,721.1 12.8,721.3 14.9,721.5 16.9,721.5 19.0,721.5 21.1,721.4 23.1,721.3 25.2,721.0 27.2,720.7 29.7,720.1 32.2,719.4 34.7,718.4 37.1,717.0 39.6,715.1 42.1,712.7 44.6,710.0 47.1,707.1 49.5,703.9 52.0,700.3 54.5,696.7 57.0,693.5 59.4,690.6 61.9,687.9 64.4,685.5 66.9,683.6 69.3,681.9 71.8,680.9 74.3,680.4 76.8,680.2 79.2,680.4 81.7,681.1 84.2,682.0 86.7,683.2 89.2,684.6 91.6,686.1 94.1,687.5 96.6,689.1 99.1,690.7 101.5,692.2 104.0,693.9 106.5,695.6 109.0,697.1 111.4,698.4 113.9,699.3 116.4,699.7 118.9,700.2 121.3,700.9 123.8,702.0 126.3,703.3 128.8,704.7 131.3,705.9 133.7,706.9 136.2,707.9 138.7,708.8 141.2,709.6 143.2,710.1 145.3,710.5 147.4,711.0 149.4,711.4 151.5,711.7 153.5,712.1 156.0,712.6 158.5,713.1 161.0,713.4 163.4,713.3 165.9,712.5 168.4,711.4 170.9,709.9 173.4,708.3 175.8,706.7 178.3,704.8 180.8,702.8 183.3,700.9 185.7,699.1 188.2,697.2 190.7,695.3 193.2,693.5 195.6,691.6 198.1,689.6 200.6,687.7 203.1,686.1 205.5,684.6 208.0,683.2 210.5,682.1 213.0,681.1 215.5,680.4 217.9,679.9 220.4,679.6 222.9,679.4 224.9,679.2 227.0,679.2 229.1,679.1 231.1,679.2 233.2,679.2 235.3,679.4 237.3,679.5 239.4,679.8 241.5,680.1 243.5,680.4 245.6,680.7 247.6,681.1 249.7,681.5 251.8,681.9 253.8,682.4 255.9,682.8 258.0,683.3 260.0,683.6 262.1,683.8 264.2,684.0 266.2,684.2 268.3,684.3 270.3,684.3 272.4,684.3 274.9,684.0 277.4,683.4 279.8,682.9 282.3,682.8 284.8,683.3 287.3,684.2 289.7,685.2 292.2,686.1 294.7,686.8 297.2,687.6 299.7,688.2 302.1,688.5 304.6,688.5 307.1,688.2 309.6,687.7 312.0,686.8 314.5,684.9 317.0,682.5 319.5,679.9 321.9,676.9 324.4,673.8 326.9,671.2 330.6,667.5 332.6,665.8 334.6,663.6 336.6,661.0 338.7,658.3 340.7,655.6 342.7,653.2 344.7,651.3 346.7,650.1 348.9,649.7 351.1,649.6 353.3,649.9 355.5,650.4 357.7,651.2 359.9,652.1 362.1,653.1 364.3,654.1 366.5,655.1 368.7,656.2 370.9,657.6 373.1,659.1 375.3,660.7 377.5,662.4 379.7,664.0 381.9,665.4 384.1,666.6 386.3,667.5 388.8,668.7 391.3,669.3 393.8,669.1 396.2,668.0 398.3,667.4 400.4,666.7 402.4,665.9 404.5,664.9 406.6,663.9 408.6,662.8 410.7,661.6 412.7,660.4 414.8,659.1 416.9,657.8 418.9,656.5 421.0,655.1 423.0,654.6 425.0,654.1 427.0,653.5 429.1,652.9 431.1,652.2 433.1,651.6 435.1,650.9 437.1,650.2 439.1,649.5 441.2,648.7 443.2,648.0 445.2,647.2 447.2,646.5 449.2,645.7 451.2,644.9 453.2,644.2 455.3,643.5 457.3,642.7 459.3,642.0 461.3,641.3 463.3,640.6 465.3,640.0 467.4,639.4 469.4,638.8 471.4,638.2 473.4,637.7 475.4,637.2 477.4,636.8 479.5,636.4 481.5,636.1 483.5,635.8 485.5,635.6 487.5,635.4 489.5,635.3 491.6,635.3 493.7,635.7 495.7,636.5 497.8,637.6 499.8,638.9 501.9,640.4 504.0,642.0 506.0,643.7 508.1,645.4 510.2,647.1 512.2,648.7 514.3,650.1 516.6,652.9 518.8,655.9 521.1,658.9 523.4,661.9 525.6,664.8 527.9,667.5 530.0,672.5 532.0,677.2 534.1,681.1 536.2,684.2 538.2,686.6 540.3,688.5 542.4,690.1 544.4,691.2 546.5,691.7 549.0,691.6 551.4,690.9 553.9,689.8 556.4,688.6 558.9,687.1 561.3,685.6 563.8,684.3 566.3,683.3 568.8,682.5 571.3,681.7 573.7,681.1 576.2,680.4 578.7,679.7 581.2,679.3 583.6,679.4 586.1,680.3 588.6,682.0 591.1,684.3 593.5,687.4 596.0,691.0 598.5,694.7 601.0,698.4 603.4,702.1 605.9,705.9 608.4,709.6 610.9,713.4 613.4,717.0 615.5,719.7 617.7,722.4 619.9,724.8 622.0,726.9 624.2,728.5 626.4,729.8 628.5,730.7 630.7,731.4 633.2,731.7 635.6,731.7 638.1,731.5 640.6,731.4 643.1,731.2 645.5,731.0 648.0,730.8 650.5,730.6 653.0,730.5 655.5,730.5 657.9,730.5 660.4,730.6 662.5,731.1 664.5,731.8 666.6,731.9 668.7,731.2 670.7,730.0 672.8,728.2 674.9,725.4 676.9,721.9 679.0,718.2 681.0,714.5 683.1,710.5 685.2,707.1 687.2,704.2 689.3,701.8 691.4,700.2 693.4,699.3 695.5,699.2 697.6,699.7 700.0,700.8 702.5,702.5 705.0,704.6 707.5,707.4 709.9,710.5 712.4,713.3 714.9,715.2 717.4,716.8 719.8,718.2 722.3,719.4 724.8,720.6 727.3,721.6 729.7,722.5 731.9,723.2 734.1,723.7 736.2,724.1 738.4,723.9 740.6,723.2 742.7,722.0 744.9,720.7 747.1,719.5 749.6,718.1 752.0,716.9 754.5,715.8 757.0,714.9 759.5,714.3 761.9,713.3 764.4,711.8 766.9,710.1 769.4,708.3 771.8,706.6 774.3,704.8 776.8,703.4 778.9,702.4 780.9,701.8 783.0,701.7 785.2,702.1 787.3,702.9 789.5,703.8 791.7,704.6 794.1,705.4 796.6,706.1 799.1,706.8 801.6,707.1 804.0,707.0 806.5,706.4 809.0,705.9 811.5,705.0 813.9,704.1 816.4,704.1 818.9,705.7 821.4,708.2 823.9,710.8 826.3,713.2 828.8,715.7 831.3,718.2 833.8,720.6 836.2,723.0 838.7,725.7 841.2,729.0 843.7,732.6 846.1,735.6 848.2,737.7 850.3,739.3 852.3,740.5 854.4,741.7 856.5,742.4 858.5,742.3 861.0,740.9 863.5,738.6 866.0,735.6 868.4,731.6 870.9,726.8 873.4,722.0 875.4,717.3 877.5,712.7 879.6,708.3 881.8,704.2 884.0,700.3 886.2,697.2 888.7,695.1 891.1,693.9 893.6,693.5 895.8,693.8 898.0,694.6 900.1,695.7 902.3,697.2 904.8,699.1 907.2,701.5 909.7,703.8 912.2,705.9 914.7,707.5 917.1,709.0 919.6,710.1 922.1,710.8 924.6,710.9 927.1,710.4 929.5,709.7 932.0,709.1 934.5,708.2 937.0,707.3 939.4,707.1 941.5,708.0 943.6,709.6 945.6,712.1 948.1,717.3 950.6,724.4 953.1,733.9 955.5,744.2 957.6,750.6 959.7,757.0 961.7,764.1 964.2,772.0 966.7,780.6 969.2,790.1 971.6,801.9 974.1,814.6 976.6,823.5 978.6,825.8 980.7,827.2 982.8,827.7 984.8,827.2 986.9,825.8 989.0,823.5 991.6,814.1 994.2,801.0 996.9,790.1 999.2,784.2 1001.5,780.5 1003.8,776.4 1006.3,771.0 1008.8,765.2 1011.3,759.1 1013.7,752.6 1016.2,745.9 1018.7,739.3 1021.2,732.8 1023.6,726.5 1026.1,720.7 1028.6,715.6 1031.1,711.0 1033.5,707.1 1036.0,704.1 1038.5,701.8 1041.0,700.2 1043.4,699.6 1045.9,699.6 1048.4,699.7 1050.9,699.7 1053.4,699.4 1055.8,699.1 1058.3,698.7 1060.8,698.4 1063.3,698.1 1065.7,697.7 1068.2,697.5 1070.7,697.7 1073.2,698.6 1075.6,700.2 1078.1,702.1 1080.6,704.8 1083.1,707.9 1085.5,710.8 1088.0,713.4 1090.5,715.8 1093.0,718.2 1095.5,720.8 1097.9,723.4 1100.4,725.7 1102.9,727.5 1105.4,729.1 1107.8,730.6 1110.3,731.8 1112.8,732.8 1115.3,733.9 1117.7,734.8 1120.2,735.7 1122.7,736.4 1125.2,737.2 1127.6,738.1 1130.1,739.6 1132.6,741.3 1135.1,743.0 1137.6,744.8 1140.0,746.5 1142.5,748.0 1145.0,749.1 1147.5,749.8 1149.9,749.9 1152.4,749.1 1154.9,747.5 1157.4,746.2 1159.8,745.3 1162.3,744.5 1164.8,744.2 1167.3,744.6 1169.7,745.4 1172.2,746.2 1174.4,746.7 1176.6,747.3 1178.7,747.7 1180.9,748.0 1183.1,747.9 1185.2,747.8 1187.4,747.4 1189.6,746.7 1192.0,745.4 1194.5,743.7 1197.0,741.8 1199.5,739.5 1201.9,737.0 1204.4,734.3 1206.9,731.4 1209.4,728.4 1211.8,725.7 1214.3,723.4 1216.8,721.5 1219.3,720.0 1221.8,719.2 1224.2,718.8 1226.7,718.2 1229.2,717.2 1231.7,715.8 1234.1,714.5 1236.6,713.2 1239.1,711.8 1241.6,710.8 1244.0,710.3 1246.5,710.1 1249.0,710.3 1251.5,711.0 1253.9,712.1 1256.4,713.3 1258.9,714.4 1261.4,715.6 1263.9,717.0 1266.3,718.9 1268.8,721.0 1271.3,723.2 1273.8,725.7 1276.2,728.2 1278.7,729.9 1281.2,730.5 1283.7,730.3 1286.1,729.4 1288.6,727.4 1291.1,724.5 1293.6,722.0 1296.0,719.8 1298.5,717.8 1301.0,716.5 1303.5,716.1 1306.0,716.3 1308.4,717.0 1310.9,718.4 1313.4,720.2 1315.9,721.5 1317.9,721.9 1320.0,721.5 1322.1,721.2 1324.1,720.8 1326.2,720.3 1328.3,719.9 1330.3,719.4 1332.4,719.0 1334.4,718.7 1336.5,718.4 1338.6,718.2 1340.6,717.9 1342.7,717.5 1344.8,717.0 1347.2,715.9 1349.7,714.5 1352.2,713.0 1354.7,711.6 1357.1,710.0 1359.6,708.4 1362.1,707.0 1364.6,705.9 1367.1,704.9 1369.5,704.4 1372.0,704.6 1374.5,705.8 1377.0,707.6 1379.4,709.6 1381.9,711.6 1384.4,713.7 1386.9,715.8 1389.3,717.6 1391.8,719.4 1394.3,720.7 1396.8,721.6 1399.2,722.2 1401.7,722.5 1404.2,722.4 1406.7,722.0 1409.2,721.6 1411.6,721.5 1414.1,721.6 1416.6,722.0 1419.1,722.4 1421.5,722.5 1424.0,722.1 1426.5,721.6 1429.0,721.0 1431.4,720.7 1433.9,720.8 1436.4,721.1 1438.9,721.5 1441.3,722.0 1443.5,722.5 1445.7,723.2 1447.8,723.8 1450.0,723.9 1452.2,723.5 1454.3,722.6 1456.5,721.6 1458.7,720.7 1461.2,720.1 1463.6,719.5 1466.1,718.9 1468.6,718.2 1471.1,717.4 1473.5,716.5 1476.0,715.6 1478.5,714.5 1481.0,713.4 1483.4,712.1 1485.9,710.8 1488.4,709.6 1490.9,708.4 1493.4,707.2 1495.8,706.1 1498.3,705.1 1500.8,704.4 1503.3,703.7 1505.7,703.2 1508.2,702.6 1510.7,702.0 1513.2,701.4 1515.6,700.8 1518.1,700.4 1520.6,700.1 1523.1,700.0 1525.5,700.4 1528.0,701.5 1530.5,703.0 1533.0,704.6 1535.5,706.2 1537.9,707.8 1540.4,709.6 1542.9,711.6 1545.4,713.7 1547.8,715.8 1549.9,717.8 1552.0,719.7 1554.0,721.5 1556.5,723.9 1559.0,725.7" fill="none" stroke="#ff6d00" stroke-width="1.05" stroke-linejoin="round" stroke-linecap="round" />
</g>
<rect x="0" y="555" width="1817" height="1" fill="#2a2e39"/>
<rect x="0" y="667" width="1817" height="1" fill="#2a2e39"/>
<rect x="0" y="790" width="1817" height="1" fill="#2a2e39"/>
<rect x="1760" y="5" width="1" height="812" fill="#2a2e39"/>
<rect x="0" y="0" width="1817" height="4" fill="#1e222d"/>
<rect x="0" y="4" width="1817" height="1.5" fill="#2a2e39"/>
<rect x="0" y="0" width="1.2" height="817" fill="#1e222d"/>
<rect x="1.2" y="4" width="1.4" height="817" fill="#2a2e39"/>
<rect x="1815.4" y="0" width="2" height="817" fill="#1e222d"/>
<g clip-path="url(#ca1)">
<text x="1770.3" y="31.3" font-size="12.4" fill="#b2b5be" text-anchor="start" font-weight="normal" textLength="35.7" lengthAdjust="spacingAndGlyphs" >1800.0</text>
<text x="1770.3" y="90.9" font-size="12.4" fill="#b2b5be" text-anchor="start" font-weight="normal" textLength="35.7" lengthAdjust="spacingAndGlyphs" >1600.0</text>
<text x="1770.3" y="150.6" font-size="12.4" fill="#b2b5be" text-anchor="start" font-weight="normal" textLength="35.7" lengthAdjust="spacingAndGlyphs" >1400.0</text>
<text x="1770.3" y="210.2" font-size="12.4" fill="#b2b5be" text-anchor="start" font-weight="normal" textLength="35.7" lengthAdjust="spacingAndGlyphs" >1200.0</text>
<text x="1770.3" y="269.9" font-size="12.4" fill="#b2b5be" text-anchor="start" font-weight="normal" textLength="35.7" lengthAdjust="spacingAndGlyphs" >1000.0</text>
<text x="1770.3" y="329.6" font-size="12.4" fill="#b2b5be" text-anchor="start" font-weight="normal" textLength="29.2" lengthAdjust="spacingAndGlyphs" >800.0</text>
<text x="1770.3" y="389.2" font-size="12.4" fill="#b2b5be" text-anchor="start" font-weight="normal" textLength="29.2" lengthAdjust="spacingAndGlyphs" >600.0</text>
<text x="1770.3" y="448.9" font-size="12.4" fill="#b2b5be" text-anchor="start" font-weight="normal" textLength="29.2" lengthAdjust="spacingAndGlyphs" >400.0</text>
<text x="1770.3" y="508.5" font-size="12.4" fill="#b2b5be" text-anchor="start" font-weight="normal" textLength="29.2" lengthAdjust="spacingAndGlyphs" >200.0</text>
</g>
<rect x="1761" y="6" width="54" height="22.5" fill="#000"/>
<text x="1769.8" y="22.8" font-size="12" fill="#d1d4dc" text-anchor="start" font-weight="normal" textLength="19.5" lengthAdjust="spacingAndGlyphs" >SEK</text>
<text x="1770.3" y="582.6" font-size="12.4" fill="#b2b5be" text-anchor="start" font-weight="normal" textLength="29.2" lengthAdjust="spacingAndGlyphs" >75.00</text>
<text x="1770.3" y="615.8" font-size="12.4" fill="#b2b5be" text-anchor="start" font-weight="normal" textLength="29.2" lengthAdjust="spacingAndGlyphs" >50.00</text>
<text x="1770.3" y="648.7" font-size="12.4" fill="#b2b5be" text-anchor="start" font-weight="normal" textLength="29.2" lengthAdjust="spacingAndGlyphs" >25.00</text>
<g clip-path="url(#ca3)">
<text x="1770.3" y="674.6" font-size="12.4" fill="#b2b5be" text-anchor="start" font-weight="normal" textLength="22.8" lengthAdjust="spacingAndGlyphs" >40.0</text>
<text x="1770.3" y="714.1" font-size="12.4" fill="#b2b5be" text-anchor="start" font-weight="normal" textLength="17.3" lengthAdjust="spacingAndGlyphs" >0.0</text>
<text x="1770.3" y="753.8" font-size="12.4" fill="#b2b5be" text-anchor="start" font-weight="normal" textLength="29.3" lengthAdjust="spacingAndGlyphs" >−40.0</text>
<text x="1770.3" y="793.6" font-size="12.4" fill="#b2b5be" text-anchor="start" font-weight="normal" textLength="29.3" lengthAdjust="spacingAndGlyphs" >−80.0</text>
</g>
<rect x="1726" y="305" width="32.8" height="17" rx="2" fill="#ef5350"/>
<rect x="1760" y="305" width="46" height="17" rx="2" fill="#ef5350"/>
<rect x="1760" y="305" width="3" height="17" fill="#ef5350"/>
<text x="1731.7" y="317.8" font-size="12" fill="#fff" text-anchor="start" font-weight="normal" textLength="21.2" lengthAdjust="spacingAndGlyphs" >EVO</text>
<text x="1770.2" y="317.8" font-size="12" fill="#fff" text-anchor="start" font-weight="bold" textLength="29.2" lengthAdjust="spacingAndGlyphs" >840.5</text>
<text x="36.6" y="808" font-size="12" fill="#b2b5be" text-anchor="middle" font-weight="normal" >Okt</text>
<text x="121" y="808" font-size="12" fill="#b2b5be" text-anchor="middle" font-weight="normal" >9</text>
<text x="234.6" y="808" font-size="12" fill="#b2b5be" text-anchor="middle" font-weight="bold" >2021</text>
<text x="357" y="808" font-size="12" fill="#b2b5be" text-anchor="middle" font-weight="normal" >Mar</text>
<text x="491" y="808" font-size="12" fill="#b2b5be" text-anchor="middle" font-weight="normal" >Maj</text>
<text x="621" y="808" font-size="12" fill="#b2b5be" text-anchor="middle" font-weight="normal" >Jul</text>
<text x="759" y="808" font-size="12" fill="#b2b5be" text-anchor="middle" font-weight="normal" >Sep</text>
<text x="895" y="808" font-size="12" fill="#b2b5be" text-anchor="middle" font-weight="normal" >Nov</text>
<text x="1030" y="808" font-size="12" fill="#b2b5be" text-anchor="middle" font-weight="bold" >2022</text>
<text x="1156" y="808" font-size="12" fill="#b2b5be" text-anchor="middle" font-weight="normal" >Mar</text>
<text x="1289" y="808" font-size="12" fill="#b2b5be" text-anchor="middle" font-weight="normal" >Maj</text>
<text x="1417" y="808" font-size="12" fill="#b2b5be" text-anchor="middle" font-weight="normal" >Jul</text>
<text x="1555" y="808" font-size="12" fill="#b2b5be" text-anchor="middle" font-weight="normal" >Sep</text>
<text x="1690" y="808" font-size="12" fill="#b2b5be" text-anchor="middle" font-weight="normal" >Nov</text>
<text x="9.5" y="24" font-size="12.4" fill="#c3c6cf" text-anchor="start" font-weight="normal" textLength="152.4" lengthAdjust="spacingAndGlyphs" >EVOLUTION AB, 1D, OMXSTO</text>
<text x="169.5" y="24" font-size="12.4" fill="#c3c6cf" text-anchor="start" font-weight="normal" textLength="7.8" lengthAdjust="spacingAndGlyphs" >O</text>
<text x="177.7" y="24" font-size="12.4" fill="#ef5350" text-anchor="start" font-weight="normal" textLength="29.4" lengthAdjust="spacingAndGlyphs" >847.0</text>
<text x="214.7" y="24" font-size="12.4" fill="#c3c6cf" text-anchor="start" font-weight="normal" textLength="7.2" lengthAdjust="spacingAndGlyphs" >H</text>
<text x="222.3" y="24" font-size="12.4" fill="#ef5350" text-anchor="start" font-weight="normal" textLength="28.7" lengthAdjust="spacingAndGlyphs" >847.0</text>
<text x="259.3" y="24" font-size="12.4" fill="#c3c6cf" text-anchor="start" font-weight="normal" textLength="5.6" lengthAdjust="spacingAndGlyphs" >L</text>
<text x="265.3" y="24" font-size="12.4" fill="#ef5350" text-anchor="start" font-weight="normal" textLength="28.7" lengthAdjust="spacingAndGlyphs" >824.6</text>
<text x="301.6" y="24" font-size="12.4" fill="#c3c6cf" text-anchor="start" font-weight="normal" textLength="7.5" lengthAdjust="spacingAndGlyphs" >C</text>
<text x="309.5" y="24" font-size="12.4" fill="#ef5350" text-anchor="start" font-weight="normal" textLength="28.8" lengthAdjust="spacingAndGlyphs" >840.5</text>
<text x="346.2" y="24" font-size="12.4" fill="#ef5350" text-anchor="start" font-weight="normal" textLength="77.7" lengthAdjust="spacingAndGlyphs" >+18.8 (+2.29%)</text>
<text x="9.9" y="41" font-size="12.4" fill="#c3c6cf" text-anchor="start" font-weight="normal" textLength="121.6" lengthAdjust="spacingAndGlyphs" >MA · 1D (200, close, 0)</text>
<text x="139.7" y="41" font-size="12.4" fill="#9c27b0" text-anchor="start" font-weight="normal" textLength="34.7" lengthAdjust="spacingAndGlyphs" >1027.5</text>
<text x="9.9" y="58" font-size="12.4" fill="#c3c6cf" text-anchor="start" font-weight="normal" textLength="115.6" lengthAdjust="spacingAndGlyphs" >MA · 1D (50, close, 0)</text>
<text x="133.1" y="58" font-size="12.4" fill="#f44336" text-anchor="start" font-weight="normal" textLength="28.1" lengthAdjust="spacingAndGlyphs" >931.1</text>
<text x="9.9" y="75" font-size="12.4" fill="#c3c6cf" text-anchor="start" font-weight="normal" textLength="15.9" lengthAdjust="spacingAndGlyphs" >Vol</text>
<text x="33.7" y="75" font-size="12.4" fill="#ef5350" text-anchor="start" font-weight="normal" textLength="48.9" lengthAdjust="spacingAndGlyphs" >877.459K</text>
<text x="9.9" y="92" font-size="12.4" fill="#c3c6cf" text-anchor="start" font-weight="normal" textLength="139.8" lengthAdjust="spacingAndGlyphs" >MA (100, close, 0, SMA, 5)</text>
<text x="157.6" y="92" font-size="12.4" fill="#4caf50" text-anchor="start" font-weight="normal" textLength="29.4" lengthAdjust="spacingAndGlyphs" >950.0</text>
<text x="9.9" y="109" font-size="12.4" fill="#c3c6cf" text-anchor="start" font-weight="normal" textLength="133.8" lengthAdjust="spacingAndGlyphs" >MA (20, close, 0, SMA, 5)</text>
<text x="151.3" y="109" font-size="12.4" fill="#2a2eff" text-anchor="start" font-weight="normal" textLength="28.7" lengthAdjust="spacingAndGlyphs" >924.1</text>
<text x="10" y="575.2" font-size="12.4" fill="#c3c6cf" text-anchor="start" font-weight="normal" textLength="134.4" lengthAdjust="spacingAndGlyphs" >RSI (9, close, SMA, 14, 2)</text>
<text x="152.2" y="575.2" font-size="12.4" fill="#7e57c2" text-anchor="start" font-weight="normal" textLength="27.6" lengthAdjust="spacingAndGlyphs" >28.41</text>
<text x="189" y="575.2" font-size="12.4" fill="#c3c6cf" text-anchor="start" font-weight="normal" textLength="7.5" lengthAdjust="spacingAndGlyphs" >∅</text>
<text x="204" y="575.2" font-size="12.4" fill="#c3c6cf" text-anchor="start" font-weight="normal" textLength="7.6" lengthAdjust="spacingAndGlyphs" >∅</text>
<text x="10" y="687" font-size="12.4" fill="#c3c6cf" text-anchor="start" font-weight="normal" textLength="185" lengthAdjust="spacingAndGlyphs" >MACD (12, 26, close, 9, EMA, EMA)</text>
<text x="203.4" y="687" font-size="12.4" fill="#ffcdd2" text-anchor="start" font-weight="normal" textLength="28.6" lengthAdjust="spacingAndGlyphs" >−12.2</text>
<text x="240.6" y="687" font-size="12.4" fill="#2962ff" text-anchor="start" font-weight="normal" textLength="27.8" lengthAdjust="spacingAndGlyphs" >−28.9</text>
<text x="277.9" y="687" font-size="12.4" fill="#ff6d00" text-anchor="start" font-weight="normal" textLength="28.1" lengthAdjust="spacingAndGlyphs" >−16.7</text>
</svg>
</body></html>
